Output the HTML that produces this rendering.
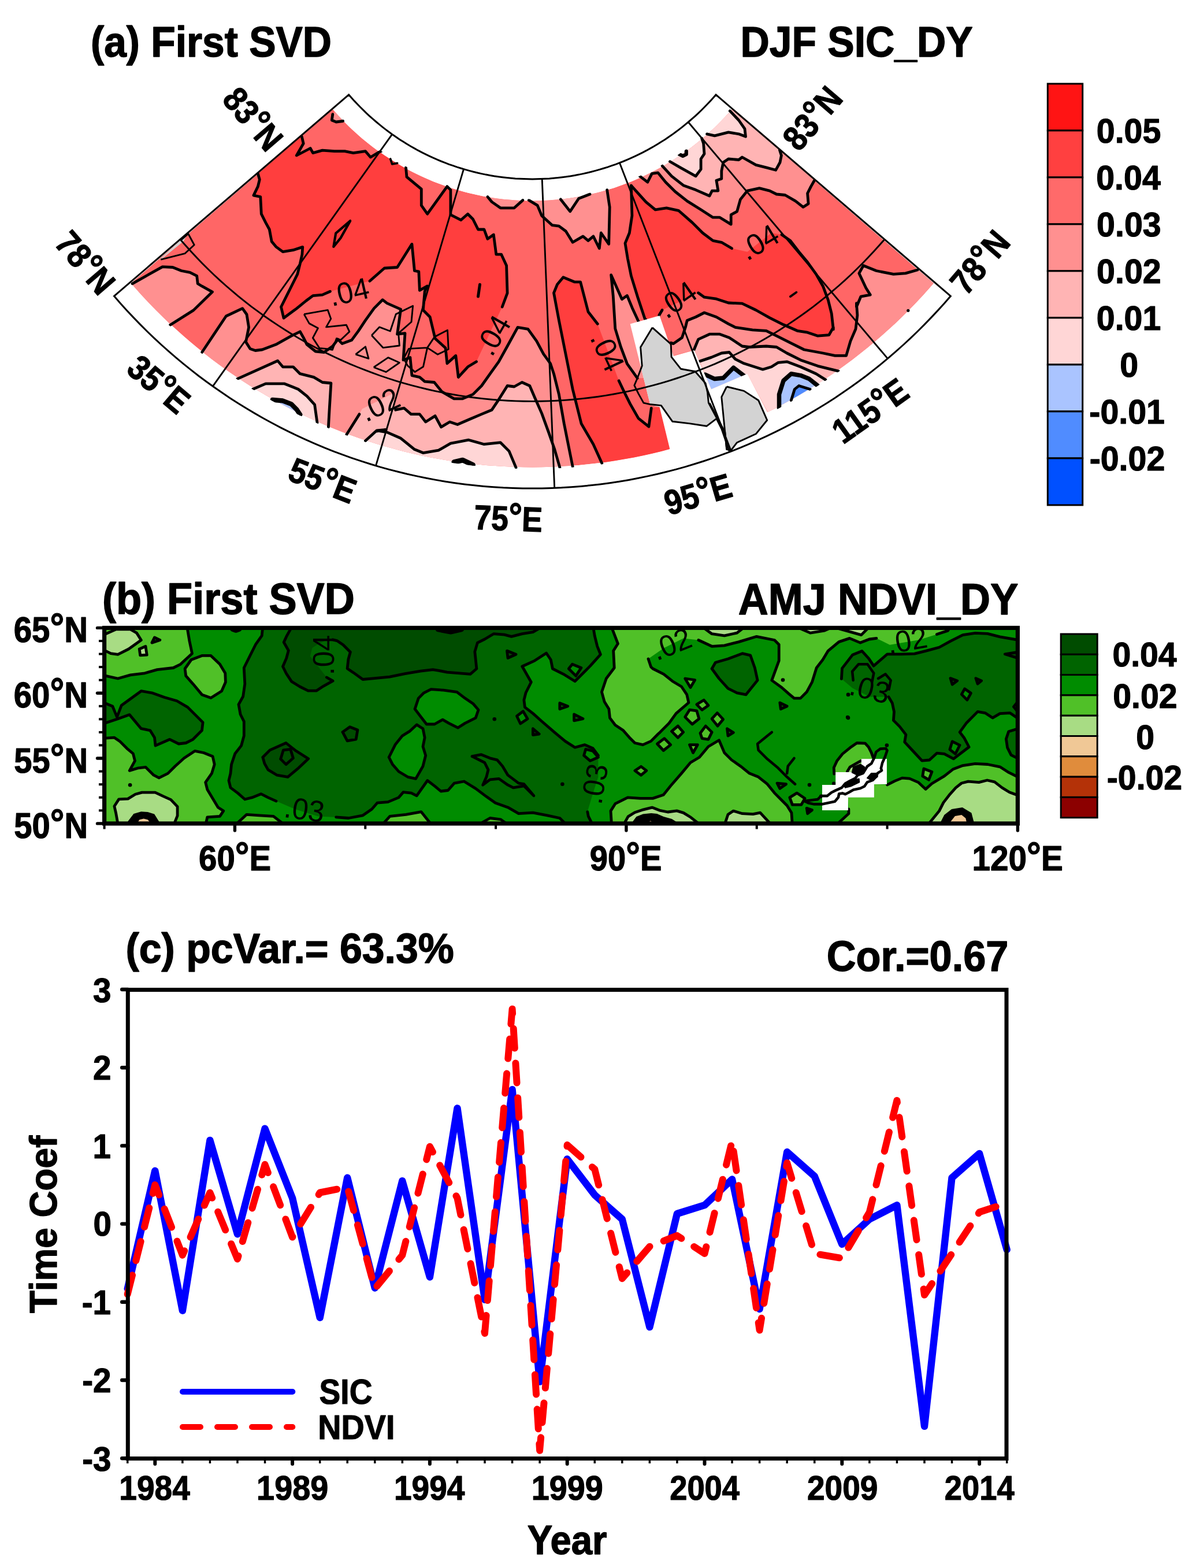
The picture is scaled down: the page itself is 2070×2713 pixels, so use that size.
<!DOCTYPE html>
<html lang="en"><head><meta charset="utf-8"><title>SVD of DJF SIC and AMJ NDVI</title>
<style>
html,body{margin:0;padding:0;background:#fff;}
body{width:2070px;height:2713px;overflow:hidden;}
svg{display:block;}
.t{font-family:"Liberation Sans",Arial,Helvetica,sans-serif;font-weight:bold;fill:#000;}
.cl{font-family:"Liberation Sans",Arial,Helvetica,sans-serif;font-weight:normal;fill:#000;}
</style></head><body>
<svg width="2070" height="2713" viewBox="0 0 2070 2713">
<rect x="0" y="0" width="2070" height="2713" fill="#ffffff"/>
<g id="panel-a">
<defs><clipPath id="dclip"><path d="M226.7 490.0 L237.3 502.1 L248.1 514.0 L259.2 525.7 L270.4 537.2 L281.8 548.5 L293.4 559.7 L305.3 570.6 L317.3 581.3 L329.5 591.8 L341.8 602.0 L354.4 612.1 L367.1 621.9 L380.0 631.5 L393.1 640.9 L406.3 650.1 L419.7 659.0 L433.3 667.7 L446.9 676.1 L460.8 684.3 L474.8 692.3 L488.9 700.0 L503.1 707.4 L517.5 714.7 L532.0 721.6 L546.6 728.3 L561.4 734.8 L576.2 741.0 L591.2 746.9 L606.2 752.5 L621.4 757.9 L636.6 763.1 L652.0 767.9 L667.4 772.5 L682.9 776.8 L698.4 780.9 L714.1 784.7 L729.8 788.2 L745.5 791.4 L761.4 794.3 L777.2 797.0 L793.1 799.4 L809.1 801.5 L825.1 803.3 L841.1 804.9 L857.1 806.1 L873.2 807.1 L889.2 807.8 L905.3 808.3 L921.4 808.4 L937.5 808.3 L953.6 807.8 L969.6 807.1 L985.7 806.1 L1001.7 804.9 L1017.7 803.3 L1033.7 801.5 L1049.7 799.4 L1065.6 797.0 L1081.4 794.3 L1097.3 791.4 L1113.0 788.2 L1128.7 784.7 L1144.4 780.9 L1159.9 776.8 L1175.4 772.5 L1190.8 767.9 L1206.2 763.1 L1221.4 757.9 L1236.6 752.5 L1251.6 746.9 L1266.6 741.0 L1281.4 734.8 L1296.2 728.3 L1310.8 721.6 L1325.3 714.7 L1339.7 707.4 L1353.9 700.0 L1368.0 692.3 L1382.0 684.3 L1395.9 676.1 L1409.5 667.7 L1423.1 659.0 L1436.5 650.1 L1449.7 640.9 L1462.8 631.5 L1475.7 621.9 L1488.4 612.1 L1501.0 602.0 L1513.3 591.8 L1525.5 581.3 L1537.5 570.6 L1549.4 559.7 L1561.0 548.5 L1572.4 537.2 L1583.6 525.7 L1594.7 514.0 L1605.5 502.1 L1616.1 490.0 L1266.8 189.1 L1261.6 195.1 L1256.2 201.0 L1250.7 206.8 L1245.1 212.5 L1239.4 218.2 L1233.7 223.7 L1227.8 229.1 L1221.8 234.5 L1215.8 239.7 L1209.6 244.8 L1203.4 249.8 L1197.0 254.7 L1190.6 259.5 L1184.1 264.1 L1177.5 268.7 L1170.9 273.1 L1164.1 277.4 L1157.3 281.6 L1150.5 285.7 L1143.5 289.7 L1136.5 293.5 L1129.4 297.2 L1122.2 300.8 L1115.0 304.2 L1107.8 307.6 L1100.4 310.8 L1093.0 313.9 L1085.6 316.8 L1078.1 319.6 L1070.6 322.3 L1063.0 324.9 L1055.4 327.3 L1047.7 329.6 L1040.0 331.7 L1032.3 333.7 L1024.5 335.6 L1016.7 337.3 L1008.8 338.9 L1001.0 340.4 L993.1 341.7 L985.2 342.9 L977.3 344.0 L969.3 344.9 L961.3 345.6 L953.4 346.3 L945.4 346.8 L937.4 347.1 L929.4 347.3 L921.4 347.4 L913.4 347.3 L905.4 347.1 L897.4 346.8 L889.4 346.3 L881.5 345.6 L873.5 344.9 L865.5 344.0 L857.6 342.9 L849.7 341.7 L841.8 340.4 L834.0 338.9 L826.1 337.3 L818.3 335.6 L810.5 333.7 L802.8 331.7 L795.1 329.6 L787.4 327.3 L779.8 324.9 L772.2 322.3 L764.7 319.6 L757.2 316.8 L749.8 313.9 L742.4 310.8 L735.0 307.6 L727.8 304.2 L720.6 300.8 L713.4 297.2 L706.3 293.5 L699.3 289.7 L692.3 285.7 L685.5 281.6 L678.7 277.4 L671.9 273.1 L665.3 268.7 L658.7 264.1 L652.2 259.5 L645.8 254.7 L639.4 249.8 L633.2 244.8 L627.0 239.7 L621.0 234.5 L615.0 229.1 L609.1 223.7 L603.4 218.2 L597.7 212.5 L592.1 206.8 L586.6 201.0 L581.2 195.1 L576.0 189.1 Z"/></clipPath>
<clipPath id="sclip"><path d="M223.1 490.4 L233.7 502.5 L244.6 514.5 L255.6 526.4 L266.9 538.0 L278.4 549.4 L290.1 560.6 L301.9 571.6 L314.0 582.4 L326.2 592.9 L338.7 603.3 L351.3 613.4 L364.1 623.4 L377.0 633.1 L390.1 642.5 L403.4 651.7 L416.9 660.7 L430.5 669.5 L444.3 678.0 L458.2 686.3 L472.2 694.3 L486.4 702.1 L500.7 709.6 L515.2 716.9 L529.8 723.9 L544.5 730.6 L559.3 737.1 L574.2 743.4 L589.3 749.4 L604.4 755.1 L619.6 760.5 L635.0 765.7 L650.4 770.6 L665.9 775.2 L681.5 779.6 L697.1 783.6 L712.9 787.5 L728.7 791.0 L744.5 794.2 L760.4 797.2 L776.4 799.9 L792.4 802.3 L808.4 804.4 L824.5 806.3 L840.6 807.8 L856.7 809.1 L872.9 810.1 L889.0 810.8 L905.2 811.3 L921.4 811.4 L937.6 811.3 L953.8 810.8 L969.9 810.1 L986.1 809.1 L1002.2 807.8 L1018.3 806.3 L1034.4 804.4 L1050.4 802.3 L1066.4 799.9 L1082.4 797.2 L1098.3 794.2 L1114.1 791.0 L1129.9 787.5 L1145.7 783.6 L1161.3 779.6 L1176.9 775.2 L1192.4 770.6 L1207.8 765.7 L1223.2 760.5 L1238.4 755.1 L1253.5 749.4 L1268.6 743.4 L1283.5 737.1 L1298.3 730.6 L1313.0 723.9 L1327.6 716.9 L1342.1 709.6 L1356.4 702.1 L1370.6 694.3 L1384.6 686.3 L1398.5 678.0 L1412.3 669.5 L1425.9 660.7 L1439.4 651.7 L1452.7 642.5 L1465.8 633.1 L1478.7 623.4 L1491.5 613.4 L1504.1 603.3 L1516.6 592.9 L1528.8 582.4 L1540.9 571.6 L1552.7 560.6 L1564.4 549.4 L1575.9 538.0 L1587.2 526.4 L1598.2 514.5 L1609.1 502.5 L1619.7 490.4 L1265.2 186.3 L1260.0 192.3 L1254.7 198.2 L1249.2 204.0 L1243.7 209.8 L1238.0 215.4 L1232.3 220.9 L1226.4 226.3 L1220.5 231.6 L1214.5 236.8 L1208.3 241.9 L1202.1 246.9 L1195.8 251.8 L1189.4 256.6 L1183.0 261.2 L1176.4 265.8 L1169.8 270.2 L1163.1 274.5 L1156.3 278.7 L1149.5 282.8 L1142.6 286.7 L1135.6 290.6 L1128.5 294.3 L1121.4 297.9 L1114.2 301.3 L1107.0 304.6 L1099.7 307.8 L1092.3 310.9 L1084.9 313.8 L1077.5 316.7 L1070.0 319.3 L1062.4 321.9 L1054.8 324.3 L1047.2 326.6 L1039.5 328.7 L1031.8 330.7 L1024.1 332.6 L1016.3 334.3 L1008.5 335.9 L1000.7 337.4 L992.8 338.7 L984.9 339.9 L977.0 341.0 L969.1 341.9 L961.2 342.6 L953.2 343.3 L945.3 343.8 L937.3 344.1 L929.4 344.3 L921.4 344.4 L913.4 344.3 L905.5 344.1 L897.5 343.8 L889.6 343.3 L881.6 342.6 L873.7 341.9 L865.8 341.0 L857.9 339.9 L850.0 338.7 L842.1 337.4 L834.3 335.9 L826.5 334.3 L818.7 332.6 L811.0 330.7 L803.3 328.7 L795.6 326.6 L788.0 324.3 L780.4 321.9 L772.8 319.3 L765.3 316.7 L757.9 313.8 L750.5 310.9 L743.1 307.8 L735.8 304.6 L728.6 301.3 L721.4 297.9 L714.3 294.3 L707.2 290.6 L700.2 286.7 L693.3 282.8 L686.5 278.7 L679.7 274.5 L673.0 270.2 L666.4 265.8 L659.8 261.2 L653.4 256.6 L647.0 251.8 L640.7 246.9 L634.5 241.9 L628.3 236.8 L622.3 231.6 L616.4 226.3 L610.5 220.9 L604.8 215.4 L599.1 209.8 L593.6 204.0 L588.1 198.2 L582.8 192.3 L577.6 186.3 Z"/></clipPath>
<clipPath id="mclip"><path d="M1090.7 560.5 L1141.6 546.2 L1165.7 615.9 L1201.4 606.1 L1231.0 673.5 L1293.5 646.7 L1345.0 745.0 L1180.0 860.0 L1159.5 777.5 L1141.6 704.3 L1125.5 700.7 Z"/></clipPath></defs>
<g clip-path="url(#dclip)">
<path d="M226.7 490.0 L237.3 502.1 L248.1 514.0 L259.2 525.7 L270.4 537.2 L281.8 548.5 L293.4 559.7 L305.3 570.6 L317.3 581.3 L329.5 591.8 L341.8 602.0 L354.4 612.1 L367.1 621.9 L380.0 631.5 L393.1 640.9 L406.3 650.1 L419.7 659.0 L433.3 667.7 L446.9 676.1 L460.8 684.3 L474.8 692.3 L488.9 700.0 L503.1 707.4 L517.5 714.7 L532.0 721.6 L546.6 728.3 L561.4 734.8 L576.2 741.0 L591.2 746.9 L606.2 752.5 L621.4 757.9 L636.6 763.1 L652.0 767.9 L667.4 772.5 L682.9 776.8 L698.4 780.9 L714.1 784.7 L729.8 788.2 L745.5 791.4 L761.4 794.3 L777.2 797.0 L793.1 799.4 L809.1 801.5 L825.1 803.3 L841.1 804.9 L857.1 806.1 L873.2 807.1 L889.2 807.8 L905.3 808.3 L921.4 808.4 L937.5 808.3 L953.6 807.8 L969.6 807.1 L985.7 806.1 L1001.7 804.9 L1017.7 803.3 L1033.7 801.5 L1049.7 799.4 L1065.6 797.0 L1081.4 794.3 L1097.3 791.4 L1113.0 788.2 L1128.7 784.7 L1144.4 780.9 L1159.9 776.8 L1175.4 772.5 L1190.8 767.9 L1206.2 763.1 L1221.4 757.9 L1236.6 752.5 L1251.6 746.9 L1266.6 741.0 L1281.4 734.8 L1296.2 728.3 L1310.8 721.6 L1325.3 714.7 L1339.7 707.4 L1353.9 700.0 L1368.0 692.3 L1382.0 684.3 L1395.9 676.1 L1409.5 667.7 L1423.1 659.0 L1436.5 650.1 L1449.7 640.9 L1462.8 631.5 L1475.7 621.9 L1488.4 612.1 L1501.0 602.0 L1513.3 591.8 L1525.5 581.3 L1537.5 570.6 L1549.4 559.7 L1561.0 548.5 L1572.4 537.2 L1583.6 525.7 L1594.7 514.0 L1605.5 502.1 L1616.1 490.0 L1266.8 189.1 L1261.6 195.1 L1256.2 201.0 L1250.7 206.8 L1245.1 212.5 L1239.4 218.2 L1233.7 223.7 L1227.8 229.1 L1221.8 234.5 L1215.8 239.7 L1209.6 244.8 L1203.4 249.8 L1197.0 254.7 L1190.6 259.5 L1184.1 264.1 L1177.5 268.7 L1170.9 273.1 L1164.1 277.4 L1157.3 281.6 L1150.5 285.7 L1143.5 289.7 L1136.5 293.5 L1129.4 297.2 L1122.2 300.8 L1115.0 304.2 L1107.8 307.6 L1100.4 310.8 L1093.0 313.9 L1085.6 316.8 L1078.1 319.6 L1070.6 322.3 L1063.0 324.9 L1055.4 327.3 L1047.7 329.6 L1040.0 331.7 L1032.3 333.7 L1024.5 335.6 L1016.7 337.3 L1008.8 338.9 L1001.0 340.4 L993.1 341.7 L985.2 342.9 L977.3 344.0 L969.3 344.9 L961.3 345.6 L953.4 346.3 L945.4 346.8 L937.4 347.1 L929.4 347.3 L921.4 347.4 L913.4 347.3 L905.4 347.1 L897.4 346.8 L889.4 346.3 L881.5 345.6 L873.5 344.9 L865.5 344.0 L857.6 342.9 L849.7 341.7 L841.8 340.4 L834.0 338.9 L826.1 337.3 L818.3 335.6 L810.5 333.7 L802.8 331.7 L795.1 329.6 L787.4 327.3 L779.8 324.9 L772.2 322.3 L764.7 319.6 L757.2 316.8 L749.8 313.9 L742.4 310.8 L735.0 307.6 L727.8 304.2 L720.6 300.8 L713.4 297.2 L706.3 293.5 L699.3 289.7 L692.3 285.7 L685.5 281.6 L678.7 277.4 L671.9 273.1 L665.3 268.7 L658.7 264.1 L652.2 259.5 L645.8 254.7 L639.4 249.8 L633.2 244.8 L627.0 239.7 L621.0 234.5 L615.0 229.1 L609.1 223.7 L603.4 218.2 L597.7 212.5 L592.1 206.8 L586.6 201.0 L581.2 195.1 L576.0 189.1 Z" fill="#FF6666"/>
<path d="M522.3 236.3 L525.2 248.2 L513.3 269.0 L537.1 256.5 L541.6 264.6 L558.0 260.1 L578.8 261.6 L596.7 261.6 L611.5 264.6 L632.4 261.6 L641.3 272.0 L656.2 263.1 L668.1 257.7 L702.5 289.9 L704.0 306.2 L729.3 327.1 L729.3 355.4 L739.7 370.2 L773.9 322.6 L779.9 328.6 L779.9 371.7 L782.9 373.2 L797.7 380.7 L809.6 370.2 L818.6 379.2 L827.5 397.0 L837.9 397.0 L843.9 413.4 L854.3 406.0 L858.8 440.2 L867.7 440.2 L876.6 459.5 L878.1 507.1 L869.2 531.0 L824.5 625.8 L809.6 634.8 L793.3 652.6 L788.8 615.4 L773.9 628.8 L771.0 602.0 L753.1 585.7 L744.2 548.5 L732.3 536.5 L735.2 503.8 L739.7 494.9 L726.3 502.3 L724.8 469.9 L717.4 468.5 L712.9 422.3 L687.6 462.5 L665.3 464.0 L640.0 486.3 L571.4 504.2 L558.0 510.1 L541.6 511.6 L529.7 520.5 L513.3 533.9 L491.0 550.3 L486.5 531.0 L501.4 501.2 L514.8 474.4 L519.3 456.5 L522.9 440.2 L523.8 427.4 L507.4 432.7 L489.5 435.7 L477.6 426.8 L470.2 417.9 L466.3 397.0 L459.8 385.1 L452.3 370.2 L450.8 340.5 L438.9 338.1 L446.4 322.6 L449.3 310.7 L446.4 300.3 L414.3 259.8 L494.6 201.5 Z" fill="#FF3E3E"/>
<path d="M1041.8 801.4 L1026.9 768.7 L1006.1 733.0 L991.2 673.5 L979.3 613.9 L967.4 554.4 L958.5 506.8 L964.4 492.3 L974.8 479.8 L994.2 487.8 L1004.6 487.8 L1018.0 539.5 L1034.3 560.4 L1071.1 658.8 L1080.0 677.5 L1090.7 698.9 L1105.0 723.9 L1122.9 738.2 L1127.3 706.1 L1141.6 704.3 L1159.5 777.5 L1175.7 837.8 L1134.1 848.0 L1092.2 856.4 L1049.9 862.9 Z" fill="#FF3E3E"/>
<path d="M1092.4 321.1 L1117.9 349.4 L1134.2 362.8 L1153.6 359.8 L1174.4 364.3 L1198.2 385.1 L1216.1 403.0 L1233.9 416.4 L1248.8 419.3 L1266.7 429.8 L1293.5 435.7 L1335.1 403.0 L1353.0 406.0 L1367.9 416.4 L1382.7 435.7 L1397.6 453.6 L1412.5 474.4 L1424.4 495.2 L1433.3 519.0 L1439.3 542.9 L1442.3 569.9 L1442.3 566.3 L1434.8 579.7 L1415.5 581.2 L1397.6 575.2 L1379.8 572.3 L1356.0 561.8 L1332.1 549.9 L1308.3 536.5 L1284.5 525.2 L1260.7 524.0 L1239.9 517.2 L1219.0 514.2 L1208.6 506.8 L1146.1 536.4 L1140.7 545.4 L1117.5 552.5 L1116.2 551.8 L1104.3 516.1 L1092.4 477.4 L1086.4 447.6 L1082.0 420.8 L1089.4 403.0 L1093.9 373.2 L1092.4 321.1 Z" fill="#FF3E3E"/>
<path d="M229.1 490.8 L281.2 461.6 L299.0 462.5 L313.9 468.5 L328.8 471.4 L340.7 477.4 L342.2 490.8 L349.6 495.2 L367.5 505.1 L334.8 536.9 L294.6 562.2 L252.3 607.4 L225.5 581.4 L199.6 554.3 L174.8 526.3 L151.1 497.3 L128.6 467.4 L128.6 467.4 L180.6 429.6 Z" fill="#FF9090"/>
<path d="M349.6 609.5 L370.5 578.2 L391.3 547.0 L419.6 533.6 L427.0 544.0 L430.6 566.3 L425.5 591.6 L433.0 603.5 L441.9 606.5 L453.8 605.0 L477.6 596.1 L504.4 581.2 L519.3 573.8 L525.2 584.2 L531.2 596.1 L546.1 608.0 L561.0 609.5 L575.8 599.0 L584.8 587.1 L592.2 594.6 L608.6 588.6 L620.5 572.3 L632.4 554.4 L647.3 533.6 L662.1 518.7 L669.8 524.6 L693.6 535.1 L687.6 578.2 L701.0 576.7 L698.0 622.9 L709.9 618.4 L712.9 649.6 L726.3 652.6 L735.2 660.1 L751.6 661.5 L765.0 677.9 L785.8 689.8 L800.7 689.8 L818.6 682.4 L833.5 667.5 L848.3 646.7 L863.2 625.8 L878.1 599.0 L896.0 566.3 L913.8 569.3 L928.7 590.1 L940.6 612.4 L952.5 628.8 L958.5 646.7 L967.4 682.4 L976.3 733.0 L985.2 777.6 L991.2 807.4 L995.9 868.6 L961.0 870.6 L926.1 871.4 L891.1 870.9 L856.3 869.2 L821.4 866.3 L786.8 862.1 L752.3 856.7 L718.0 850.1 L683.9 842.2 L650.2 833.1 L616.8 822.9 L583.8 811.4 L551.3 798.8 L519.2 785.0 L487.6 770.1 L456.5 754.1 L426.1 737.0 L396.3 718.8 L367.1 699.6 L338.7 679.3 L311.0 658.1 Z" fill="#FF9090"/>
<path d="M915.3 346.4 L930.2 355.4 L937.6 373.2 L955.5 389.6 L967.4 391.1 L979.3 400.0 L991.2 419.3 L1009.0 408.9 L1018.0 416.4 L1026.9 408.9 L1037.3 429.8 L1040.3 403.0 L1053.7 422.3 L1055.2 358.3 L1050.7 328.6 L1034.9 275.0 L1020.4 279.0 L1005.7 282.4 L990.9 285.3 L976.1 287.6 L961.1 289.4 L946.1 290.6 L931.1 291.3 L916.0 291.4 Z" fill="#FF9090"/>
<path d="M843.9 340.5 L851.3 349.4 L866.2 359.8 L890.0 359.8 L904.9 346.4 L906.9 291.1 L889.0 290.1 L871.1 288.2 L853.3 285.6 Z" fill="#FF9090"/>
<path d="M575.8 197.6 L574.3 208.0 L581.8 211.0 L593.7 209.5 L634.4 170.0 L622.0 156.7 Z" fill="#FF9090"/>
<path d="M1105.0 556.1 L1094.3 532.9 L1085.4 511.4 L1076.4 517.7 L1057.7 475.7 L1061.2 511.4 L1064.8 568.6 L1074.6 600.7 L1085.4 629.3 L1094.3 641.8 L1103.2 654.3 L1115.7 654.3 L1108.6 565.0 Z" fill="#FF9090"/>
<path d="M1588.1 467.0 L1567.3 472.9 L1546.4 474.4 L1516.7 468.5 L1494.3 459.5 L1486.9 472.9 L1498.8 498.2 L1506.2 510.1 L1489.9 513.1 L1482.4 531.0 L1482.4 524.6 L1483.9 545.5 L1481.0 569.3 L1472.0 590.1 L1464.6 615.4 L1445.2 615.4 L1424.4 611.0 L1391.7 605.0 L1367.9 593.1 L1344.0 581.2 L1326.2 572.3 L1302.4 570.8 L1272.6 566.3 L1260.7 560.4 L1239.9 548.5 L1219.0 541.0 L1204.2 548.5 L1189.3 554.4 L1186.3 566.3 L1180.4 584.2 L1165.5 594.6 L1161.0 593.1 L1164.0 615.4 L1198.2 606.5 L1231.0 673.5 L1293.5 646.7 L1329.2 713.6 L1356.8 769.4 L1389.1 752.6 L1420.7 734.7 L1451.6 715.6 L1481.8 695.4 L1511.2 674.0 L1539.8 651.6 L1567.6 628.2 L1594.4 603.7 L1620.4 578.3 L1645.4 551.9 L1669.4 524.6 L1692.3 496.4 L1714.2 467.4 L1714.2 467.4 L1634.0 409.1 Z" fill="#FF9090"/>
<path d="M1107.4 304.8 L1120.8 315.2 L1128.3 300.3 L1138.7 298.8 L1152.1 315.2 L1168.5 331.5 L1189.3 347.9 L1213.1 362.8 L1233.9 376.2 L1245.8 376.2 L1265.2 388.1 L1265.2 371.7 L1275.6 365.8 L1281.5 344.9 L1293.5 330.1 L1314.3 325.6 L1332.1 330.1 L1344.0 336.0 L1358.9 337.5 L1376.8 347.9 L1390.2 358.3 L1399.1 352.4 L1397.6 334.5 L1403.6 322.6 L1409.5 312.2 L1442.8 270.2 L1245.0 126.5 L1245.0 126.5 L1236.1 138.4 L1226.7 149.9 L1216.9 161.0 L1206.7 171.8 L1196.1 182.2 L1185.1 192.2 L1173.8 201.8 L1162.1 210.9 L1150.0 219.6 L1137.7 227.9 L1125.1 235.7 L1112.2 243.0 L1099.0 249.8 L1085.6 256.2 Z" fill="#FF9090"/>
<path d="M410.7 655.6 L480.6 624.3 L489.5 634.8 L507.4 634.8 L519.3 646.7 L543.1 652.6 L558.0 661.5 L572.9 663.0 L569.9 712.1 L568.4 738.9 L544.6 796.1 L509.7 780.7 L475.4 764.0 L441.8 746.0 L408.9 726.7 L376.8 706.2 Z" fill="#FFB4B4"/>
<path d="M599.6 752.3 L622.0 716.6 L626.8 707.5 L678.6 681.6 L684.6 709.2 L699.5 706.2 L711.4 716.6 L726.3 716.6 L736.7 730.0 L753.1 719.6 L763.5 738.9 L778.4 730.0 L791.8 734.5 L812.6 725.5 L833.5 716.6 L851.3 709.2 L863.2 691.3 L878.1 667.5 L890.0 669.0 L903.4 661.5 L916.8 667.5 L925.7 688.3 L937.6 715.1 L949.5 747.9 L959.9 777.6 L968.9 808.9 L972.0 870.1 L935.6 871.3 L899.1 871.1 L862.7 869.6 L826.3 866.8 L790.1 862.6 L754.1 857.0 L718.3 850.1 L682.7 841.9 L647.5 832.4 L612.7 821.5 L578.3 809.4 Z" fill="#FFB4B4"/>
<path d="M970.4 344.9 L986.7 365.8 L1001.6 343.5 L1021.0 336.0 L1008.8 281.7 L994.1 284.7 L979.2 287.2 L964.3 289.1 Z" fill="#FFB4B4"/>
<path d="M1201.2 605.0 L1208.6 587.1 L1228.0 578.2 L1245.8 578.2 L1262.2 584.2 L1284.5 599.0 L1296.4 600.5 L1326.2 599.0 L1344.0 600.5 L1361.9 611.0 L1385.7 622.9 L1415.5 633.3 L1451.2 642.2 L1329.2 713.6 L1293.5 646.7 L1231.0 673.5 L1198.2 606.5 Z" fill="#FFB4B4"/>
<path d="M1146.1 286.9 L1162.5 304.8 L1183.3 321.1 L1204.2 328.6 L1228.0 339.0 L1232.4 330.1 L1242.9 330.1 L1239.9 312.2 L1248.8 309.2 L1248.8 295.8 L1251.8 281.0 L1260.7 275.0 L1278.6 276.5 L1284.5 272.0 L1308.3 285.4 L1326.2 289.9 L1342.6 294.3 L1350.0 281.0 L1352.4 269.0 L1349.4 259.5 L1378.1 223.2 L1245.0 126.5 L1245.0 126.5 L1236.5 137.8 L1227.5 148.9 L1218.2 159.6 L1208.5 169.9 L1198.4 179.9 L1188.0 189.6 L1177.3 198.8 L1166.2 207.7 L1154.8 216.2 L1143.2 224.3 L1131.2 231.9 L1119.0 239.2 Z" fill="#FFB4B4"/>
<path d="M437.4 673.5 L459.8 663.9 L492.5 663.9 L516.3 673.5 L531.2 685.4 L544.6 700.2 L549.0 731.5 L524.3 787.3 L483.8 768.3 L444.3 747.4 L405.7 724.7 Z" fill="#FFD6D6"/>
<path d="M632.4 762.7 L650.2 746.4 L668.1 743.4 L651.9 744.9 L669.8 747.9 L693.6 758.3 L717.4 777.6 L732.3 783.6 L759.0 779.1 L779.9 767.2 L811.1 761.2 L837.9 768.7 L866.2 765.7 L881.1 780.6 L893.0 808.9 L891.1 870.9 L855.7 869.2 L820.3 866.2 L785.2 861.9 L750.2 856.3 L715.4 849.5 L680.9 841.4 L646.7 832.1 L612.9 821.6 Z" fill="#FFD6D6"/>
<path d="M1211.6 624.9 L1231.0 618.4 L1248.8 611.0 L1262.2 609.5 L1272.6 621.4 L1287.5 628.8 L1320.2 639.2 L1335.1 634.8 L1347.0 627.3 L1361.9 625.8 L1385.7 634.8 L1412.5 646.7 L1428.9 657.1 L1329.2 713.6 L1293.5 646.7 L1231.0 673.5 Z" fill="#FFD6D6"/>
<path d="M1223.5 231.8 L1236.9 234.8 L1260.7 228.9 L1278.6 231.8 L1290.5 236.3 L1289.0 222.9 L1278.6 208.0 L1263.1 191.7 L1221.9 155.4 L1210.7 167.6 L1199.0 179.4 L1186.9 190.6 Z" fill="#FFD6D6"/>
<path d="M1159.5 279.5 L1177.4 289.9 L1204.2 304.8 L1213.1 292.9 L1213.1 275.0 L1219.0 266.1 L1217.6 248.2 L1214.6 239.3 L1179.2 197.3 L1167.5 206.7 L1155.5 215.7 L1143.2 224.3 L1130.6 232.3 Z" fill="#FFD6D6"/>
<path d="M471.7 691.3 L489.5 692.8 L504.4 698.8 L513.3 707.7 L519.3 716.6 L492.1 772.4 L441.1 745.6 Z" fill="#AAC4FF"/>
<path d="M785.8 799.0 L800.7 795.5 L818.6 803.8 L811.6 865.2 L776.6 860.6 Z" fill="#AAC4FF"/>
<path d="M1220.5 648.2 L1236.9 655.6 L1251.8 654.1 L1269.6 636.2 L1289.0 651.1 L1293.5 646.7 L1231.0 673.5 Z" fill="#AAC4FF"/>
<path d="M1348.5 706.2 L1348.5 682.4 L1356.0 658.6 L1369.3 646.7 L1385.7 649.6 L1400.6 655.6 L1415.5 667.5 L1447.7 718.1 L1412.5 739.5 L1376.4 759.4 Z" fill="#AAC4FF"/>
<path d="M1369.3 692.8 L1375.3 673.5 L1382.7 667.5 L1402.1 673.5 L1434.6 726.3 L1399.6 746.8 Z" fill="#508CFF"/>
</g>
<g clip-path="url(#sclip)" fill="none" stroke="#000" stroke-linejoin="round" stroke-linecap="round">
<path d="M522.3 236.3 L525.2 248.2 L513.3 269.0 L537.1 256.5 L541.6 264.6 L558.0 260.1 L578.8 261.6 L596.7 261.6 L611.5 264.6 L632.4 261.6 L641.3 272.0 L656.2 263.1 L668.1 257.7 " stroke-width="4.8"/>
<path d="M702.5 289.9 L704.0 306.2 L729.3 327.1 L729.3 355.4 L739.7 370.2 L773.9 322.6 L779.9 328.6 L779.9 371.7 L782.9 373.2 L797.7 380.7 L809.6 370.2 L818.6 379.2 L827.5 397.0 L837.9 397.0 L843.9 413.4 L854.3 406.0 L858.8 440.2 L867.7 440.2 L876.6 459.5 L878.1 507.1 L869.2 531.0 " stroke-width="4.8"/>
<path d="M824.5 625.8 L809.6 634.8 L793.3 652.6 L788.8 615.4 L773.9 628.8 L771.0 602.0 L753.1 585.7 L744.2 548.5 L732.3 536.5 L735.2 503.8 L739.7 494.9 L726.3 502.3 L724.8 469.9 L717.4 468.5 L712.9 422.3 L687.6 462.5 L665.3 464.0 L640.0 486.3 " stroke-width="4.8"/>
<path d="M571.4 504.2 L558.0 510.1 L541.6 511.6 L529.7 520.5 L513.3 533.9 L491.0 550.3 L486.5 531.0 L501.4 501.2 L514.8 474.4 L519.3 456.5 L522.9 440.2 L523.8 427.4 L507.4 432.7 L489.5 435.7 L477.6 426.8 L470.2 417.9 L466.3 397.0 L459.8 385.1 L452.3 370.2 L450.8 340.5 L438.9 338.1 L446.4 322.6 L449.3 310.7 L446.4 300.3 " stroke-width="4.8"/>
<path d="M1041.8 801.4 L1026.9 768.7 L1006.1 733.0 L991.2 673.5 L979.3 613.9 L967.4 554.4 L958.5 506.8 L964.4 492.3 L974.8 479.8 L994.2 487.8 L1004.6 487.8 L1018.0 539.5 L1034.3 560.4 " stroke-width="4.8"/>
<path d="M1071.1 658.8 L1080.0 677.5 L1090.7 698.9 L1105.0 723.9 L1122.9 738.2 L1127.3 706.1 " stroke-width="4.8"/>
<path d="M1092.4 321.1 L1117.9 349.4 L1134.2 362.8 L1153.6 359.8 L1174.4 364.3 L1198.2 385.1 L1216.1 403.0 L1233.9 416.4 L1248.8 419.3 L1266.7 429.8 " stroke-width="4.8"/>
<path d="M1353.0 406.0 L1367.9 416.4 L1382.7 435.7 L1397.6 453.6 L1412.5 474.4 L1424.4 495.2 L1433.3 519.0 L1439.3 542.9 L1442.3 569.9 L1442.3 566.3 L1434.8 579.7 L1415.5 581.2 L1397.6 575.2 L1379.8 572.3 L1356.0 561.8 L1332.1 549.9 L1308.3 536.5 L1284.5 525.2 L1260.7 524.0 L1239.9 517.2 L1219.0 514.2 L1208.6 506.8 " stroke-width="4.8"/>
<path d="M1146.1 536.4 L1140.7 545.4 " stroke-width="4.8"/>
<path d="M1117.5 552.5 L1116.2 551.8 L1104.3 516.1 L1092.4 477.4 L1086.4 447.6 L1082.0 420.8 L1089.4 403.0 L1093.9 373.2 L1092.4 321.1 " stroke-width="4.8"/>
<path d="M229.1 490.8 L281.2 461.6 L299.0 462.5 L313.9 468.5 L328.8 471.4 L340.7 477.4 L342.2 490.8 L349.6 495.2 L367.5 505.1 L334.8 536.9 L294.6 562.2 " stroke-width="4.8"/>
<path d="M349.6 609.5 L370.5 578.2 L391.3 547.0 L419.6 533.6 L427.0 544.0 L430.6 566.3 L425.5 591.6 L433.0 603.5 L441.9 606.5 L453.8 605.0 L477.6 596.1 L504.4 581.2 L519.3 573.8 L525.2 584.2 L531.2 596.1 L546.1 608.0 L561.0 609.5 L575.8 599.0 L584.8 587.1 L592.2 594.6 L608.6 588.6 L620.5 572.3 L632.4 554.4 L647.3 533.6 L662.1 518.7 L669.8 524.6 L693.6 535.1 L687.6 578.2 L701.0 576.7 L698.0 622.9 L709.9 618.4 L712.9 649.6 L726.3 652.6 L735.2 660.1 L751.6 661.5 L765.0 677.9 L785.8 689.8 L800.7 689.8 L818.6 682.4 L833.5 667.5 L848.3 646.7 L863.2 625.8 L878.1 599.0 L896.0 566.3 L913.8 569.3 L928.7 590.1 L940.6 612.4 L952.5 628.8 L958.5 646.7 L967.4 682.4 L976.3 733.0 L985.2 777.6 L991.2 807.4 " stroke-width="4.8"/>
<path d="M915.3 346.4 L930.2 355.4 L937.6 373.2 L955.5 389.6 L967.4 391.1 L979.3 400.0 L991.2 419.3 L1009.0 408.9 L1018.0 416.4 L1026.9 408.9 L1037.3 429.8 L1040.3 403.0 L1053.7 422.3 L1055.2 358.3 L1050.7 328.6 " stroke-width="4.8"/>
<path d="M843.9 340.5 L851.3 349.4 L866.2 359.8 L890.0 359.8 L904.9 346.4 " stroke-width="4.8"/>
<path d="M575.8 197.6 L574.3 208.0 L581.8 211.0 L593.7 209.5 " stroke-width="4.8"/>
<path d="M1105.0 556.1 L1094.3 532.9 L1085.4 511.4 L1076.4 517.7 L1057.7 475.7 L1061.2 511.4 L1064.8 568.6 L1074.6 600.7 L1085.4 629.3 L1094.3 641.8 L1103.2 654.3 " stroke-width="4.8"/>
<path d="M1588.1 467.0 L1567.3 472.9 L1546.4 474.4 L1516.7 468.5 L1494.3 459.5 L1486.9 472.9 L1498.8 498.2 L1506.2 510.1 L1489.9 513.1 L1482.4 531.0 L1482.4 524.6 L1483.9 545.5 L1481.0 569.3 L1472.0 590.1 L1464.6 615.4 L1445.2 615.4 L1424.4 611.0 L1391.7 605.0 L1367.9 593.1 L1344.0 581.2 L1326.2 572.3 L1302.4 570.8 L1272.6 566.3 L1260.7 560.4 L1239.9 548.5 L1219.0 541.0 L1204.2 548.5 L1189.3 554.4 L1186.3 566.3 L1180.4 584.2 L1165.5 594.6 L1161.0 593.1 " stroke-width="4.8"/>
<path d="M1107.4 304.8 L1120.8 315.2 L1128.3 300.3 L1138.7 298.8 L1152.1 315.2 L1168.5 331.5 L1189.3 347.9 L1213.1 362.8 L1233.9 376.2 L1245.8 376.2 L1265.2 388.1 L1265.2 371.7 L1275.6 365.8 L1281.5 344.9 L1293.5 330.1 L1314.3 325.6 L1332.1 330.1 L1344.0 336.0 L1358.9 337.5 L1376.8 347.9 L1390.2 358.3 L1399.1 352.4 L1397.6 334.5 L1403.6 322.6 L1409.5 312.2 " stroke-width="4.8"/>
<path d="M410.7 655.6 L480.6 624.3 L489.5 634.8 L507.4 634.8 L519.3 646.7 L543.1 652.6 L558.0 661.5 L572.9 663.0 L569.9 712.1 L568.4 738.9 " stroke-width="4.8"/>
<path d="M599.6 752.3 L622.0 716.6 " stroke-width="4.8"/>
<path d="M684.6 709.2 L699.5 706.2 L711.4 716.6 L726.3 716.6 L736.7 730.0 L753.1 719.6 L763.5 738.9 L778.4 730.0 L791.8 734.5 L812.6 725.5 L833.5 716.6 L851.3 709.2 L863.2 691.3 L878.1 667.5 L890.0 669.0 L903.4 661.5 L916.8 667.5 L925.7 688.3 L937.6 715.1 L949.5 747.9 L959.9 777.6 L968.9 808.9 " stroke-width="4.8"/>
<path d="M970.4 344.9 L986.7 365.8 L1001.6 343.5 L1021.0 336.0 " stroke-width="4.8"/>
<path d="M1201.2 605.0 L1208.6 587.1 L1228.0 578.2 L1245.8 578.2 L1262.2 584.2 L1284.5 599.0 L1296.4 600.5 L1326.2 599.0 L1344.0 600.5 L1361.9 611.0 L1385.7 622.9 L1415.5 633.3 L1451.2 642.2 " stroke-width="4.8"/>
<path d="M1146.1 286.9 L1162.5 304.8 L1183.3 321.1 L1204.2 328.6 L1228.0 339.0 L1232.4 330.1 L1242.9 330.1 L1239.9 312.2 L1248.8 309.2 L1248.8 295.8 L1251.8 281.0 L1260.7 275.0 L1278.6 276.5 L1284.5 272.0 L1308.3 285.4 L1326.2 289.9 L1342.6 294.3 L1350.0 281.0 L1352.4 269.0 L1349.4 259.5 " stroke-width="4.8"/>
<path d="M437.4 673.5 L459.8 663.9 L492.5 663.9 L516.3 673.5 L531.2 685.4 L544.6 700.2 L549.0 731.5 " stroke-width="4.8"/>
<path d="M632.4 762.7 L650.2 746.4 L668.1 743.4 L651.9 744.9 L669.8 747.9 L693.6 758.3 L717.4 777.6 L732.3 783.6 L759.0 779.1 L779.9 767.2 L811.1 761.2 L837.9 768.7 L866.2 765.7 L881.1 780.6 L893.0 808.9 " stroke-width="4.8"/>
<path d="M1211.6 624.9 L1231.0 618.4 L1248.8 611.0 L1262.2 609.5 L1272.6 621.4 L1287.5 628.8 L1320.2 639.2 L1335.1 634.8 L1347.0 627.3 L1361.9 625.8 L1385.7 634.8 L1412.5 646.7 L1428.9 657.1 " stroke-width="4.8"/>
<path d="M1223.5 231.8 L1236.9 234.8 L1260.7 228.9 L1278.6 231.8 L1290.5 236.3 L1289.0 222.9 L1278.6 208.0 L1263.1 191.7 " stroke-width="4.8"/>
<path d="M1159.5 279.5 L1177.4 289.9 L1204.2 304.8 L1213.1 292.9 L1213.1 275.0 L1219.0 266.1 L1217.6 248.2 L1214.6 239.3 " stroke-width="4.8"/>
<path d="M471.7 691.3 L489.5 692.8 L504.4 698.8 L513.3 707.7 L519.3 716.6 " stroke-width="4.8"/>
<path d="M785.8 799.0 L800.7 795.5 L818.6 803.8 " stroke-width="4.8"/>
<path d="M1220.5 648.2 L1236.9 655.6 L1251.8 654.1 L1269.6 636.2 L1289.0 651.1 " stroke-width="4.8"/>
<path d="M1348.5 706.2 L1348.5 682.4 L1356.0 658.6 L1369.3 646.7 L1385.7 649.6 L1400.6 655.6 L1415.5 667.5 " stroke-width="4.8"/>
<path d="M1369.3 692.8 L1375.3 673.5 L1382.7 667.5 L1402.1 673.5 " stroke-width="4.8"/>
<path d="M577.3 426.8 L581.2 403.6 L606.2 382.1 L589.5 411.9 L577.3 426.8 " stroke-width="4.2"/>
<path d="M675.7 275.0 L678.7 283.9 L687.6 282.4 " stroke-width="3.8"/>
<path d="M830.5 492.3 L827.5 513.1 " stroke-width="5.0"/>
<path d="M1175.9 267.0 L1181.8 269.9 L1187.8 267.0 L1187.8 261.6 " stroke-width="6.2"/>
<path d="M1367.9 513.1 L1378.3 505.7 " stroke-width="3.8"/>
<path d="M471.7 691.9 L489.5 693.4 L504.4 699.3 L513.3 708.3 L519.3 717.2 " stroke-width="8.1"/>
<path d="M785.8 799.6 L800.7 796.1 L818.6 804.4 " stroke-width="8.8"/>
<path d="M1220.5 648.2 L1236.9 655.6 L1251.8 654.1 L1269.6 636.2 L1289.0 651.1 " stroke-width="7.5"/>
<path d="M1348.5 706.2 L1348.5 682.4 L1356.0 658.6 L1369.3 646.7 L1385.7 649.6 L1400.6 655.6 L1415.5 667.5 " stroke-width="7.5"/>
</g>
<path d="M1090.7 560.5 L1141.6 546.2 L1165.7 615.9 L1201.4 606.1 L1231.0 673.5 L1293.5 646.7 L1345.0 745.0 L1180.0 860.0 L1159.5 777.5 L1141.6 704.3 L1125.5 700.7 Z" fill="#fff"/>
<g clip-path="url(#mclip)">
<path d="M1129.1 566.8 L1108.6 600.7 L1111.2 632.9 L1103.2 654.3 L1097.9 666.8 L1105.0 681.1 L1113.9 697.1 L1126.4 699.8 L1144.3 701.6 L1163.9 729.3 L1194.3 732.9 L1222.9 737.3 L1240.7 723.9 L1226.4 697.1 L1224.6 679.3 L1221.1 663.2 L1203.2 642.7 L1178.2 638.2 L1162.1 617.7 L1161.2 595.4 Z" fill="#D3D3D3"/>
<path d="M1257.7 669.0 L1248.8 686.8 L1257.7 777.6 L1265.2 779.1 L1275.6 765.7 L1308.3 750.8 L1327.7 727.0 L1312.8 692.8 L1287.5 676.4 Z" fill="#D3D3D3"/>
</g>
<path d="M275.5 450.0 L324.5 405.0 L317.5 417.5 L280.0 448.0 Z" fill="#D3D3D3"/>
<path d="M1129.1 566.8 L1108.6 600.7 L1111.2 632.9 L1103.2 654.3 L1097.9 666.8 L1105.0 681.1 L1113.9 697.1 L1126.4 699.8 L1144.3 701.6 L1163.9 729.3 L1194.3 732.9 L1222.9 737.3 L1240.7 723.9 L1226.4 697.1 L1224.6 679.3 L1221.1 663.2 L1203.2 642.7 L1178.2 638.2 L1162.1 617.7 L1161.2 595.4 L1129.1 566.8 " fill="none" stroke="#000" stroke-width="2.9" stroke-linejoin="round"/>
<path d="M1257.7 669.0 L1248.8 686.8 L1257.7 777.6 L1265.2 779.1 L1275.6 765.7 L1308.3 750.8 L1327.7 727.0 L1312.8 692.8 L1287.5 676.4 L1257.7 669.0 " fill="none" stroke="#000" stroke-width="2.9" stroke-linejoin="round"/>
<path d="M526.2 543.6 L567.3 536.4 L572.7 551.6 L564.6 565.9 L599.5 562.3 L604.8 573.9 L589.6 588.2 L582.5 585.5 L575.4 605.2 L563.8 603.4 L553.0 602.5 L541.4 584.6 L550.4 567.7 L535.2 559.6 L526.2 543.6 " fill="none" stroke="#000" stroke-width="2.9" stroke-linejoin="round"/>
<path d="M643.2 580.2 L656.6 565.9 L675.4 573.0 L685.2 543.6 L714.6 529.3 L712.0 557.0 L689.6 576.6 L691.4 598.0 L662.9 601.6 L643.2 580.2 " fill="none" stroke="#000" stroke-width="2.9" stroke-linejoin="round"/>
<path d="M615.5 613.2 L632.5 599.8 L637.9 620.4 L615.5 613.2 " fill="none" stroke="#000" stroke-width="2.9" stroke-linejoin="round"/>
<path d="M646.8 635.5 L671.8 618.6 L691.4 627.5 L668.2 643.6 L646.8 635.5 " fill="none" stroke="#000" stroke-width="2.9" stroke-linejoin="round"/>
<path d="M698.6 620.4 L707.5 603.4 L739.6 601.6 L752.1 582.9 L774.5 571.2 L776.2 604.3 L757.5 613.2 L739.6 601.6 L732.5 634.6 L718.2 643.6 L705.7 632.9 L698.6 620.4 " fill="none" stroke="#000" stroke-width="2.9" stroke-linejoin="round"/>
<path d="M313.9 414.9 L325.8 404.5 L336.2 423.8 L319.9 438.7 L278.2 449.1 " fill="none" stroke="#000" stroke-width="2.9" stroke-linejoin="round"/>
<path d="M1262.2 780.6 L1248.8 741.9 L1239.9 724.0 " fill="none" stroke="#000" stroke-width="2.9" stroke-linejoin="round"/>
<path d="M1257.7 777.6 L1254.8 747.9 L1228.0 697.3 " fill="none" stroke="#000" stroke-width="2.9" stroke-linejoin="round"/>
<line x1="678.7" y1="232.3" x2="368.3" y2="668.3" stroke="#000" stroke-width="2.9"/>
<line x1="802.5" y1="292.7" x2="650.5" y2="805.8" stroke="#000" stroke-width="2.9"/>
<line x1="938.2" y1="309.6" x2="959.7" y2="844.3" stroke="#000" stroke-width="2.9"/>
<line x1="1072.4" y1="281.7" x2="1265.5" y2="780.9" stroke="#000" stroke-width="2.9"/>
<line x1="1191.2" y1="211.3" x2="1536.3" y2="620.4" stroke="#000" stroke-width="2.9"/>
<path d="M311.9 414.2 L321.2 424.8 L330.7 435.3 L340.3 445.6 L350.1 455.7 L360.2 465.7 L370.3 475.5 L380.7 485.1 L391.2 494.5 L401.9 503.7 L412.8 512.8 L423.8 521.6 L434.9 530.3 L446.2 538.7 L457.7 547.0 L469.3 555.0 L481.1 562.9 L492.9 570.5 L504.9 578.0 L517.1 585.2 L529.3 592.2 L541.7 599.0 L554.2 605.5 L566.9 611.9 L579.6 618.0 L592.4 623.9 L605.3 629.6 L618.4 635.0 L631.5 640.2 L644.7 645.2 L658.0 650.0 L671.4 654.5 L684.9 658.8 L698.4 662.8 L712.0 666.6 L725.7 670.2 L739.4 673.5 L753.2 676.6 L767.0 679.4 L780.9 682.0 L794.8 684.4 L808.8 686.5 L822.8 688.3 L836.8 689.9 L850.9 691.3 L865.0 692.4 L879.0 693.3 L893.2 693.9 L907.3 694.3 L921.4 694.4 L935.5 694.3 L949.6 693.9 L963.8 693.3 L977.8 692.4 L991.9 691.3 L1006.0 689.9 L1020.0 688.3 L1034.0 686.5 L1048.0 684.4 L1061.9 682.0 L1075.8 679.4 L1089.6 676.6 L1103.4 673.5 L1117.1 670.2 L1130.8 666.6 L1144.4 662.8 L1157.9 658.8 L1171.4 654.5 L1184.8 650.0 L1198.1 645.2 L1211.3 640.2 L1224.4 635.0 L1237.5 629.6 L1250.4 623.9 L1263.2 618.0 L1275.9 611.9 L1288.6 605.5 L1301.1 599.0 L1313.5 592.2 L1325.7 585.2 L1337.9 578.0 L1349.9 570.5 L1361.7 562.9 L1373.5 555.0 L1385.1 547.0 L1396.6 538.7 L1407.9 530.3 L1419.0 521.6 L1430.0 512.8 L1440.9 503.7 L1451.6 494.5 L1462.1 485.1 L1472.5 475.5 L1482.6 465.7 L1492.7 455.7 L1502.5 445.6 L1512.1 435.3 L1521.6 424.8 L1530.9 414.2 " fill="none" stroke="#000" stroke-width="2.9"/>
<path d="M197.5 512.3 L208.5 524.9 L219.8 537.4 L231.3 549.6 L242.9 561.6 L254.8 573.5 L266.9 585.1 L279.2 596.5 L291.7 607.7 L304.4 618.6 L317.3 629.4 L330.4 639.9 L343.6 650.2 L357.1 660.2 L370.7 670.0 L384.5 679.6 L398.4 688.9 L412.5 698.0 L426.8 706.8 L441.2 715.4 L455.8 723.7 L470.5 731.8 L485.3 739.6 L500.3 747.1 L515.4 754.4 L530.7 761.4 L546.0 768.1 L561.5 774.6 L577.1 780.8 L592.8 786.7 L608.6 792.3 L624.5 797.7 L640.5 802.8 L656.5 807.6 L672.7 812.1 L688.9 816.3 L705.2 820.3 L721.6 823.9 L738.0 827.3 L754.5 830.4 L771.1 833.2 L787.6 835.7 L804.3 837.9 L820.9 839.8 L837.6 841.4 L854.4 842.7 L871.1 843.8 L887.9 844.5 L904.6 845.0 L921.4 845.1 L938.2 845.0 L954.9 844.5 L971.7 843.8 L988.4 842.7 L1005.2 841.4 L1021.9 839.8 L1038.5 837.9 L1055.2 835.7 L1071.7 833.2 L1088.3 830.4 L1104.8 827.3 L1121.2 823.9 L1137.6 820.3 L1153.9 816.3 L1170.1 812.1 L1186.3 807.6 L1202.3 802.8 L1218.3 797.7 L1234.2 792.3 L1250.0 786.7 L1265.7 780.8 L1281.3 774.6 L1296.8 768.1 L1312.1 761.4 L1327.4 754.4 L1342.5 747.1 L1357.5 739.6 L1372.3 731.8 L1387.0 723.7 L1401.6 715.4 L1416.0 706.8 L1430.3 698.0 L1444.4 688.9 L1458.3 679.6 L1472.1 670.0 L1485.7 660.2 L1499.2 650.2 L1512.4 639.9 L1525.5 629.4 L1538.4 618.6 L1551.1 607.7 L1563.6 596.5 L1575.9 585.1 L1588.0 573.5 L1599.9 561.6 L1611.5 549.6 L1623.0 537.4 L1634.3 524.9 L1645.3 512.3 L1239.1 163.9 L1234.2 169.4 L1229.3 174.9 L1224.2 180.2 L1219.1 185.5 L1213.9 190.7 L1208.6 195.8 L1203.2 200.8 L1197.7 205.7 L1192.1 210.5 L1186.5 215.2 L1180.7 219.9 L1174.9 224.4 L1169.0 228.8 L1163.1 233.1 L1157.0 237.3 L1150.9 241.4 L1144.7 245.3 L1138.4 249.2 L1132.1 253.0 L1125.7 256.6 L1119.3 260.2 L1112.8 263.6 L1106.2 266.9 L1099.5 270.1 L1092.9 273.2 L1086.1 276.1 L1079.3 279.0 L1072.5 281.7 L1065.6 284.3 L1058.7 286.7 L1051.7 289.1 L1044.7 291.3 L1037.6 293.4 L1030.5 295.4 L1023.4 297.3 L1016.3 299.0 L1009.1 300.6 L1001.9 302.1 L994.6 303.4 L987.4 304.7 L980.1 305.8 L972.8 306.7 L965.5 307.6 L958.2 308.3 L950.8 308.9 L943.5 309.3 L936.1 309.6 L928.8 309.8 L921.4 309.9 L914.0 309.8 L906.7 309.6 L899.3 309.3 L892.0 308.9 L884.6 308.3 L877.3 307.6 L870.0 306.7 L862.7 305.8 L855.4 304.7 L848.2 303.4 L840.9 302.1 L833.7 300.6 L826.5 299.0 L819.4 297.3 L812.3 295.4 L805.2 293.4 L798.1 291.3 L791.1 289.1 L784.1 286.7 L777.2 284.3 L770.3 281.7 L763.5 279.0 L756.7 276.1 L749.9 273.2 L743.3 270.1 L736.6 266.9 L730.0 263.6 L723.5 260.2 L717.1 256.6 L710.7 253.0 L704.4 249.2 L698.1 245.3 L691.9 241.4 L685.8 237.3 L679.7 233.1 L673.8 228.8 L667.9 224.4 L662.1 219.9 L656.3 215.2 L650.7 210.5 L645.1 205.7 L639.6 200.8 L634.2 195.8 L628.9 190.7 L623.7 185.5 L618.6 180.2 L613.5 174.9 L608.6 169.4 L603.7 163.9 Z" fill="none" stroke="#000" stroke-width="3.0" stroke-linejoin="miter"/>
<circle cx="1571.8" cy="537.3" r="2.6" fill="#000"/>
<text class="cl" transform="translate(604.0 504.5) rotate(-13.0) scale(0.96 1)" x="0" y="18.5" font-size="52.0" text-anchor="middle">.04</text>
<text class="cl" transform="translate(852.8 579.7) rotate(-60.0) scale(0.96 1)" x="0" y="18.5" font-size="52.0" text-anchor="middle">.04</text>
<text class="cl" transform="translate(1052.0 608.0) rotate(65.0) scale(0.96 1)" x="0" y="18.5" font-size="52.0" text-anchor="middle">.04</text>
<text class="cl" transform="translate(1171.5 518.0) rotate(-35.0) scale(0.96 1)" x="0" y="18.5" font-size="52.0" text-anchor="middle">.04</text>
<text class="cl" transform="translate(1313.5 418.5) rotate(-31.0) scale(0.96 1)" x="0" y="18.5" font-size="52.0" text-anchor="middle">.04</text>
<text class="cl" transform="translate(657.1 699.5) rotate(-25.0) scale(0.96 1)" x="0" y="18.5" font-size="52.0" text-anchor="middle">.02</text>
<rect x="1813.30" y="144.90" width="60.40" height="81.00" fill="#FF1414" stroke="#000" stroke-width="3"/>
<rect x="1813.30" y="225.90" width="60.40" height="81.00" fill="#FF4040" stroke="#000" stroke-width="3"/>
<rect x="1813.30" y="306.90" width="60.40" height="81.00" fill="#FF6A6A" stroke="#000" stroke-width="3"/>
<rect x="1813.30" y="387.90" width="60.40" height="81.00" fill="#FF9090" stroke="#000" stroke-width="3"/>
<rect x="1813.30" y="468.90" width="60.40" height="81.00" fill="#FFB4B4" stroke="#000" stroke-width="3"/>
<rect x="1813.30" y="549.90" width="60.40" height="81.00" fill="#FFD6D6" stroke="#000" stroke-width="3"/>
<rect x="1813.30" y="630.90" width="60.40" height="81.00" fill="#AAC4FF" stroke="#000" stroke-width="3"/>
<rect x="1813.30" y="711.90" width="60.40" height="81.00" fill="#508CFF" stroke="#000" stroke-width="3"/>
<rect x="1813.30" y="792.90" width="60.40" height="81.00" fill="#0050FF" stroke="#000" stroke-width="3"/>
</g>
<g id="panel-b">
<defs><clipPath id="bclip"><rect x="180.60" y="1086.40" width="1580.80" height="338.50"/></clipPath></defs>
<g clip-path="url(#bclip)">
<rect x="178.60" y="1084.40" width="1584.80" height="342.50" fill="#008C00"/>
<path d="M454.8 1084.3 L453.2 1099.8 L442.4 1115.2 L433.1 1133.8 L422.3 1155.5 L423.8 1183.3 L420.7 1205.0 L413.0 1218.9 L416.1 1236.0 L422.3 1248.3 L422.3 1273.1 L417.6 1290.1 L406.8 1304.0 L400.6 1322.6 L399.0 1338.1 L396.0 1350.5 L399.0 1362.9 L411.4 1372.1 L423.8 1383.0 L436.2 1379.9 L451.7 1373.7 L464.0 1379.9 L478.0 1386.1 L510.5 1400.0 L550.7 1412.4 L581.7 1413.9 L603.3 1415.5 L628.1 1410.8 L643.6 1400.0 L652.9 1389.2 L671.4 1387.6 L690.0 1379.9 L698.0 1370.6 L711.9 1372.1 L721.2 1376.8 L739.8 1350.5 L752.1 1359.8 L763.0 1369.0 L775.4 1367.5 L786.2 1355.1 L803.2 1352.0 L823.3 1364.4 L841.9 1378.3 L857.4 1389.2 L879.0 1396.9 L897.6 1407.7 L922.4 1406.2 L947.1 1410.8 L968.8 1415.5 L981.2 1427.9 L1026.1 1427.9 L1018.3 1412.4 L1016.8 1404.6 L1024.5 1378.3 L1035.4 1344.3 L1035.4 1307.1 L1026.1 1294.8 L1012.1 1288.6 L995.1 1293.2 L978.1 1282.4 L959.5 1266.9 L937.9 1248.3 L922.4 1234.4 L908.4 1223.6 L906.9 1211.2 L910.0 1198.8 L919.3 1180.2 L903.8 1153.0 L925.5 1143.1 L945.6 1130.1 L953.3 1141.5 L956.4 1157.0 L975.0 1166.3 L995.1 1178.7 L1021.4 1152.4 L1039.4 1132.3 L1033.8 1118.3 L1029.2 1099.8 L1026.1 1081.2 Z" fill="#006400"/>
<path d="M454.8 1084.3 L453.2 1099.8 L442.4 1115.2 L433.1 1133.8 L422.3 1155.5 L423.8 1183.3 L420.7 1205.0 L413.0 1218.9 L416.1 1236.0 L422.3 1248.3 L422.3 1273.1 L417.6 1290.1 L406.8 1304.0 L400.6 1322.6 L399.0 1338.1 L396.0 1350.5 L399.0 1362.9 L411.4 1372.1 L423.8 1383.0 L436.2 1379.9 L451.7 1373.7 L464.0 1379.9 L478.0 1386.1 " fill="none" stroke="#000" stroke-width="4.8" stroke-linejoin="round" stroke-linecap="round"/>
<path d="M581.7 1413.9 L603.3 1415.5 L628.1 1410.8 L643.6 1400.0 L652.9 1389.2 L671.4 1387.6 L690.0 1379.9 L698.0 1370.6 L711.9 1372.1 L721.2 1376.8 L739.8 1350.5 L752.1 1359.8 L763.0 1369.0 L775.4 1367.5 L786.2 1355.1 L803.2 1352.0 L823.3 1364.4 L841.9 1378.3 L857.4 1389.2 L879.0 1396.9 L897.6 1407.7 L922.4 1406.2 L947.1 1410.8 L968.8 1415.5 L981.2 1427.9 " fill="none" stroke="#000" stroke-width="4.8" stroke-linejoin="round" stroke-linecap="round"/>
<path d="M1026.1 1427.9 L1018.3 1412.4 L1016.8 1404.6 " fill="none" stroke="#000" stroke-width="4.8" stroke-linejoin="round" stroke-linecap="round"/>
<path d="M1035.4 1307.1 L1026.1 1294.8 L1012.1 1288.6 L995.1 1293.2 L978.1 1282.4 L959.5 1266.9 L937.9 1248.3 L922.4 1234.4 L908.4 1223.6 L906.9 1211.2 L910.0 1198.8 L919.3 1180.2 L903.8 1153.0 L925.5 1143.1 L945.6 1130.1 L953.3 1141.5 L956.4 1157.0 L975.0 1166.3 L995.1 1178.7 L1021.4 1152.4 L1039.4 1132.3 L1033.8 1118.3 L1029.2 1099.8 L1026.1 1081.2 " fill="none" stroke="#000" stroke-width="4.8" stroke-linejoin="round" stroke-linecap="round"/>
<path d="M176.2 1214.3 L194.8 1222.0 L202.5 1240.6 L210.2 1220.5 L244.3 1195.7 L262.9 1198.8 L284.5 1206.5 L306.2 1212.7 L324.8 1223.6 L351.1 1249.9 L349.5 1263.8 L334.0 1279.3 L321.7 1285.5 L309.3 1287.0 L293.8 1279.3 L269.0 1290.1 L267.5 1276.2 L259.8 1263.8 L244.3 1260.7 L224.2 1236.6 L204.0 1243.7 L176.2 1253.0 Z" fill="#006400"/>
<path d="M176.2 1214.3 L194.8 1222.0 L202.5 1240.6 L210.2 1220.5 L244.3 1195.7 L262.9 1198.8 L284.5 1206.5 L306.2 1212.7 L324.8 1223.6 L351.1 1249.9 L349.5 1263.8 L334.0 1279.3 L321.7 1285.5 L309.3 1287.0 L293.8 1279.3 L269.0 1290.1 L267.5 1276.2 L259.8 1263.8 L244.3 1260.7 L224.2 1236.6 L204.0 1243.7 L176.2 1253.0 " fill="none" stroke="#000" stroke-width="4.8" stroke-linejoin="round" stroke-linecap="round"/>
<path d="M1232.1 1157.0 L1238.3 1146.2 L1260.0 1140.0 L1284.8 1130.7 L1298.7 1133.8 L1306.4 1155.5 L1311.1 1177.1 L1291.0 1201.9 L1275.5 1198.8 L1260.0 1191.1 L1244.5 1174.0 L1232.1 1157.0 Z" fill="#006400"/>
<path d="M1232.1 1157.0 L1238.3 1146.2 L1260.0 1140.0 L1284.8 1130.7 L1298.7 1133.8 L1306.4 1155.5 L1311.1 1177.1 L1291.0 1201.9 L1275.5 1198.8 L1260.0 1191.1 L1244.5 1174.0 L1232.1 1157.0 " fill="none" stroke="#000" stroke-width="4.8" stroke-linejoin="round" stroke-linecap="round"/>
<path d="M1456.4 1174.6 L1457.5 1156.4 L1475.7 1132.9 L1491.8 1126.4 L1503.6 1139.3 L1512.1 1152.1 L1535.7 1131.8 L1559.3 1131.8 L1582.9 1131.1 L1602.1 1126.4 L1625.7 1120.0 L1645.0 1109.3 L1666.4 1098.6 L1687.9 1095.4 L1709.3 1096.4 L1730.7 1101.8 L1767.1 1108.2 L1767.1 1246.4 L1747.9 1233.6 L1730.7 1234.6 L1717.9 1242.1 L1705.0 1233.6 L1692.1 1231.4 L1672.9 1250.7 L1661.1 1266.8 L1668.6 1276.4 L1677.1 1292.5 L1650.4 1312.9 L1634.3 1304.3 L1621.4 1303.2 L1608.6 1315.0 L1595.7 1316.1 L1580.7 1300.0 L1565.7 1283.9 L1567.9 1271.1 L1557.1 1257.1 L1546.4 1246.4 L1547.5 1231.4 L1544.3 1216.4 L1537.9 1205.7 L1505.7 1205.7 L1475.7 1190.7 Z" fill="#006400"/>
<path d="M1456.4 1174.6 L1457.5 1156.4 L1475.7 1132.9 L1491.8 1126.4 L1503.6 1139.3 L1512.1 1152.1 L1535.7 1131.8 L1559.3 1131.8 L1582.9 1131.1 L1602.1 1126.4 L1625.7 1120.0 L1645.0 1109.3 L1666.4 1098.6 L1687.9 1095.4 L1709.3 1096.4 L1730.7 1101.8 L1767.1 1108.2 " fill="none" stroke="#000" stroke-width="4.8" stroke-linejoin="round" stroke-linecap="round"/>
<path d="M1767.1 1246.4 L1747.9 1233.6 L1730.7 1234.6 L1717.9 1242.1 L1705.0 1233.6 L1692.1 1231.4 L1672.9 1250.7 L1661.1 1266.8 L1668.6 1276.4 L1677.1 1292.5 L1650.4 1312.9 L1634.3 1304.3 L1621.4 1303.2 L1608.6 1315.0 L1595.7 1316.1 L1580.7 1300.0 L1565.7 1283.9 L1567.9 1271.1 L1557.1 1257.1 L1546.4 1246.4 L1547.5 1231.4 L1544.3 1216.4 L1537.9 1205.7 " fill="none" stroke="#000" stroke-width="4.8" stroke-linejoin="round" stroke-linecap="round"/>
<path d="M1767.1 1259.3 L1745.7 1265.7 L1741.4 1278.6 L1743.6 1293.6 L1750.0 1306.4 L1767.1 1315.0 Z" fill="#006400"/>
<path d="M1767.1 1259.3 L1745.7 1265.7 L1741.4 1278.6 L1743.6 1293.6 L1750.0 1306.4 L1767.1 1315.0 " fill="none" stroke="#000" stroke-width="4.8" stroke-linejoin="round" stroke-linecap="round"/>
<path d="M504.6 1085.4 L495.7 1101.4 L491.2 1111.2 L499.3 1125.5 L495.7 1138.9 L489.5 1153.2 L495.7 1165.7 L504.6 1179.1 L518.9 1188.0 L533.2 1195.2 L547.5 1195.2 L560.0 1187.1 L576.1 1178.2 L565.4 1172.0 L549.3 1151.4 L536.8 1135.4 L540.4 1121.1 L552.9 1113.0 L567.1 1106.8 L576.1 1106.8 L583.2 1108.6 L593.9 1115.7 L606.4 1128.2 L602.9 1140.7 L601.1 1156.8 L611.8 1163.9 L627.9 1175.5 L645.7 1173.8 L674.3 1171.1 L701.1 1165.7 L727.9 1161.2 L749.3 1158.6 L760.0 1160.4 L773.8 1163.2 L795.5 1164.8 L814.0 1166.3 L824.9 1157.0 L821.8 1127.6 L826.4 1112.1 L838.8 1106.0 L854.3 1096.7 L872.9 1098.2 L885.2 1101.3 L903.8 1096.7 L922.4 1093.6 L944.0 1081.2 Z" fill="#004C00"/>
<path d="M504.6 1085.4 L495.7 1101.4 L491.2 1111.2 L499.3 1125.5 L495.7 1138.9 L489.5 1153.2 L495.7 1165.7 L504.6 1179.1 L518.9 1188.0 L533.2 1195.2 L547.5 1195.2 L560.0 1187.1 L576.1 1178.2 L565.4 1172.0 " fill="none" stroke="#000" stroke-width="4.8" stroke-linejoin="round" stroke-linecap="round"/>
<path d="M576.1 1106.8 L583.2 1108.6 L593.9 1115.7 L606.4 1128.2 L602.9 1140.7 L601.1 1156.8 L611.8 1163.9 L627.9 1175.5 L645.7 1173.8 L674.3 1171.1 L701.1 1165.7 L727.9 1161.2 L749.3 1158.6 L760.0 1160.4 L773.8 1163.2 L795.5 1164.8 L814.0 1166.3 L824.9 1157.0 L821.8 1127.6 L826.4 1112.1 L838.8 1106.0 L854.3 1096.7 L872.9 1098.2 L885.2 1101.3 L903.8 1096.7 L922.4 1093.6 L944.0 1081.2 " fill="none" stroke="#000" stroke-width="4.8" stroke-linejoin="round" stroke-linecap="round"/>
<path d="M454.8 1310.2 L467.1 1297.9 L495.0 1285.5 L510.5 1297.9 L533.7 1312.7 L516.7 1328.8 L498.1 1344.3 L479.5 1341.2 L464.0 1331.9 L457.9 1321.1 L454.8 1310.2 Z" fill="#004C00"/>
<path d="M454.8 1310.2 L467.1 1297.9 L495.0 1285.5 L510.5 1297.9 L533.7 1312.7 L516.7 1328.8 L498.1 1344.3 L479.5 1341.2 L464.0 1331.9 L457.9 1321.1 L454.8 1310.2 " fill="none" stroke="#000" stroke-width="4.8" stroke-linejoin="round" stroke-linecap="round"/>
<path d="M485.7 1313.3 L490.4 1297.9 L502.7 1296.3 L507.4 1311.8 L495.0 1322.6 L485.7 1313.3 Z" fill="#004C00"/>
<path d="M485.7 1313.3 L490.4 1297.9 L502.7 1296.3 L507.4 1311.8 L495.0 1322.6 L485.7 1313.3 " fill="none" stroke="#000" stroke-width="4.8" stroke-linejoin="round" stroke-linecap="round"/>
<path d="M593.0 1266.6 L605.5 1257.7 L618.9 1263.0 L616.2 1279.1 L601.1 1281.8 L593.0 1266.6 Z" fill="#004C00"/>
<path d="M593.0 1266.6 L605.5 1257.7 L618.9 1263.0 L616.2 1279.1 L601.1 1281.8 L593.0 1266.6 " fill="none" stroke="#000" stroke-width="4.8" stroke-linejoin="round" stroke-linecap="round"/>
<path d="M1767.1 1127.5 L1739.3 1131.8 L1767.1 1140.4 Z" fill="#004C00"/>
<path d="M1767.1 1127.5 L1739.3 1131.8 L1767.1 1140.4 " fill="none" stroke="#000" stroke-width="4.8" stroke-linejoin="round" stroke-linecap="round"/>
<path d="M718.1 1226.7 L724.3 1208.1 L733.6 1198.8 L746.0 1192.6 L767.6 1194.2 L790.8 1197.3 L804.8 1208.1 L818.7 1217.4 L828.0 1228.2 L823.3 1242.1 L804.8 1251.4 L792.4 1259.2 L776.9 1251.4 L766.1 1245.2 L752.1 1253.0 L738.2 1253.0 L727.4 1239.0 L718.1 1226.7 Z" fill="#008C00"/>
<path d="M718.1 1226.7 L724.3 1208.1 L733.6 1198.8 L746.0 1192.6 L767.6 1194.2 L790.8 1197.3 L804.8 1208.1 L818.7 1217.4 L828.0 1228.2 L823.3 1242.1 L804.8 1251.4 L792.4 1259.2 L776.9 1251.4 L766.1 1245.2 L752.1 1253.0 L738.2 1253.0 L727.4 1239.0 L718.1 1226.7 " fill="none" stroke="#000" stroke-width="4.8" stroke-linejoin="round" stroke-linecap="round"/>
<path d="M673.2 1310.2 L684.0 1288.6 L696.4 1273.1 L708.8 1265.4 L721.2 1253.9 L732.0 1260.7 L735.1 1276.2 L732.0 1291.7 L736.7 1307.1 L732.0 1325.7 L719.6 1347.4 L705.7 1344.3 L690.2 1335.0 L679.4 1322.6 L673.2 1310.2 Z" fill="#008C00"/>
<path d="M673.2 1310.2 L684.0 1288.6 L696.4 1273.1 L708.8 1265.4 L721.2 1253.9 L732.0 1260.7 L735.1 1276.2 L732.0 1291.7 L736.7 1307.1 L732.0 1325.7 L719.6 1347.4 L705.7 1344.3 L690.2 1335.0 L679.4 1322.6 L673.2 1310.2 " fill="none" stroke="#000" stroke-width="4.8" stroke-linejoin="round" stroke-linecap="round"/>
<path d="M817.1 1308.7 L832.6 1305.6 L848.1 1311.8 L860.5 1314.9 L869.8 1325.7 L879.0 1341.2 L897.6 1355.1 L906.9 1356.7 L923.9 1376.8 L906.9 1359.8 L888.3 1362.9 L879.0 1358.2 L863.6 1347.4 L848.1 1348.9 L835.7 1358.2 L841.9 1344.3 L845.0 1331.9 L838.8 1319.5 L817.1 1308.7 Z" fill="#006400"/>
<path d="M817.1 1308.7 L832.6 1305.6 L848.1 1311.8 L860.5 1314.9 L869.8 1325.7 L879.0 1341.2 L897.6 1355.1 L906.9 1356.7 L923.9 1376.8 L906.9 1359.8 L888.3 1362.9 L879.0 1358.2 L863.6 1347.4 L848.1 1348.9 L835.7 1358.2 L841.9 1344.3 L845.0 1331.9 L838.8 1319.5 L817.1 1308.7 " fill="none" stroke="#000" stroke-width="4.8" stroke-linejoin="round" stroke-linecap="round"/>
<path d="M176.2 1167.9 L204.0 1174.0 L225.7 1167.9 L250.5 1164.8 L272.1 1158.6 L300.0 1155.5 L312.4 1149.3 L332.5 1130.7 L327.9 1109.0 L323.2 1081.2 L176.2 1081.2 Z" fill="#50C028"/>
<path d="M176.2 1167.9 L204.0 1174.0 L225.7 1167.9 L250.5 1164.8 L272.1 1158.6 L300.0 1155.5 L312.4 1149.3 L332.5 1130.7 L327.9 1109.0 L323.2 1081.2 " fill="none" stroke="#000" stroke-width="4.8" stroke-linejoin="round" stroke-linecap="round"/>
<path d="M320.1 1157.0 L331.0 1141.5 L349.5 1134.4 L365.0 1134.4 L380.5 1149.3 L389.8 1164.8 L390.4 1180.2 L383.6 1195.7 L365.0 1207.5 L349.5 1201.9 L334.0 1183.3 L321.7 1169.4 L320.1 1157.0 Z" fill="#50C028"/>
<path d="M320.1 1157.0 L331.0 1141.5 L349.5 1134.4 L365.0 1134.4 L380.5 1149.3 L389.8 1164.8 L390.4 1180.2 L383.6 1195.7 L365.0 1207.5 L349.5 1201.9 L334.0 1183.3 L321.7 1169.4 L320.1 1157.0 " fill="none" stroke="#000" stroke-width="4.8" stroke-linejoin="round" stroke-linecap="round"/>
<path d="M176.2 1277.7 L197.9 1276.2 L207.1 1282.4 L219.5 1294.8 L230.4 1304.0 L233.5 1316.4 L224.2 1333.4 L239.6 1328.8 L252.0 1327.3 L266.0 1341.2 L275.2 1345.8 L290.7 1338.1 L303.1 1325.7 L318.6 1311.8 L337.1 1299.4 L352.6 1302.5 L368.1 1308.7 L371.2 1322.6 L366.5 1338.1 L355.7 1353.6 L358.8 1365.9 L368.1 1381.4 L377.4 1396.9 L386.7 1403.1 L380.5 1412.4 L358.8 1413.9 L355.7 1427.9 L176.2 1427.9 Z" fill="#50C028"/>
<path d="M176.2 1277.7 L197.9 1276.2 L207.1 1282.4 L219.5 1294.8 L230.4 1304.0 L233.5 1316.4 L224.2 1333.4 L239.6 1328.8 L252.0 1327.3 L266.0 1341.2 L275.2 1345.8 L290.7 1338.1 L303.1 1325.7 L318.6 1311.8 L337.1 1299.4 L352.6 1302.5 L368.1 1308.7 L371.2 1322.6 L366.5 1338.1 L355.7 1353.6 L358.8 1365.9 L368.1 1381.4 L377.4 1396.9 L386.7 1403.1 L380.5 1412.4 L358.8 1413.9 L355.7 1427.9 " fill="none" stroke="#000" stroke-width="4.8" stroke-linejoin="round" stroke-linecap="round"/>
<path d="M406.8 1427.9 L426.9 1409.3 L448.6 1410.8 L473.3 1412.4 L493.4 1427.9 Z" fill="#50C028"/>
<path d="M406.8 1427.9 L426.9 1409.3 L448.6 1410.8 L473.3 1412.4 L493.4 1427.9 " fill="none" stroke="#000" stroke-width="4.8" stroke-linejoin="round" stroke-linecap="round"/>
<path d="M660.8 1427.9 L674.8 1412.4 L702.6 1409.3 L728.9 1404.6 L747.5 1427.9 Z" fill="#50C028"/>
<path d="M660.8 1427.9 L674.8 1412.4 L702.6 1409.3 L728.9 1404.6 L747.5 1427.9 " fill="none" stroke="#000" stroke-width="4.8" stroke-linejoin="round" stroke-linecap="round"/>
<path d="M826.4 1427.9 L848.1 1415.5 L866.7 1417.9 L880.6 1427.9 Z" fill="#50C028"/>
<path d="M826.4 1427.9 L848.1 1415.5 L866.7 1417.9 L880.6 1427.9 " fill="none" stroke="#000" stroke-width="4.8" stroke-linejoin="round" stroke-linecap="round"/>
<path d="M1057.0 1081.2 L1069.4 1113.7 L1061.7 1126.1 L1063.2 1155.5 L1049.3 1174.0 L1041.5 1197.3 L1046.2 1214.3 L1053.9 1226.7 L1055.5 1242.1 L1064.8 1254.5 L1078.7 1263.8 L1089.5 1276.2 L1098.8 1285.5 L1112.7 1288.6 L1126.7 1282.4 L1139.0 1270.0 L1142.4 1266.9 L1157.9 1251.4 L1170.2 1234.4 L1191.9 1215.8 L1188.8 1201.9 L1179.5 1188.0 L1164.0 1178.7 L1148.6 1166.3 L1130.0 1157.0 L1126.7 1153.9 L1122.0 1140.0 L1148.6 1121.4 L1182.6 1104.4 L1208.9 1107.5 L1232.1 1118.3 L1253.8 1116.8 L1278.6 1110.6 L1309.5 1101.3 L1340.5 1107.5 L1348.2 1115.2 L1348.2 1143.1 L1335.8 1177.1 L1352.9 1189.5 L1365.2 1200.4 L1374.5 1208.1 L1385.4 1208.1 L1396.2 1197.3 L1405.5 1180.2 L1413.2 1155.5 L1424.0 1141.5 L1433.3 1126.1 L1451.9 1110.6 L1470.5 1104.4 L1489.0 1112.1 L1504.5 1106.0 L1516.9 1104.4 L1540.0 1115.7 L1591.4 1107.1 L1621.4 1097.5 L1640.7 1091.1 L1645.0 1083.6 Z" fill="#50C028"/>
<path d="M1057.0 1081.2 L1069.4 1113.7 L1061.7 1126.1 L1063.2 1155.5 L1049.3 1174.0 L1041.5 1197.3 L1046.2 1214.3 L1053.9 1226.7 L1055.5 1242.1 L1064.8 1254.5 L1078.7 1263.8 L1089.5 1276.2 L1098.8 1285.5 L1112.7 1288.6 L1126.7 1282.4 L1139.0 1270.0 L1142.4 1266.9 L1157.9 1251.4 L1170.2 1234.4 L1191.9 1215.8 L1188.8 1201.9 L1179.5 1188.0 L1164.0 1178.7 L1148.6 1166.3 L1130.0 1157.0 L1126.7 1153.9 L1122.0 1140.0 " fill="none" stroke="#000" stroke-width="4.8" stroke-linejoin="round" stroke-linecap="round"/>
<path d="M1208.9 1107.5 L1232.1 1118.3 L1253.8 1116.8 L1278.6 1110.6 L1309.5 1101.3 L1340.5 1107.5 L1348.2 1115.2 L1348.2 1143.1 L1335.8 1177.1 L1352.9 1189.5 L1365.2 1200.4 L1374.5 1208.1 L1385.4 1208.1 L1396.2 1197.3 L1405.5 1180.2 L1413.2 1155.5 L1424.0 1141.5 L1433.3 1126.1 L1451.9 1110.6 L1470.5 1104.4 L1489.0 1112.1 L1504.5 1106.0 L1516.9 1104.4 " fill="none" stroke="#000" stroke-width="4.8" stroke-linejoin="round" stroke-linecap="round"/>
<path d="M1621.4 1097.5 L1640.7 1091.1 L1645.0 1083.6 " fill="none" stroke="#000" stroke-width="4.8" stroke-linejoin="round" stroke-linecap="round"/>
<path d="M1058.6 1427.9 L1057.0 1403.1 L1064.8 1390.7 L1086.4 1379.9 L1108.1 1381.4 L1129.8 1381.4 L1148.3 1375.2 L1160.7 1359.8 L1179.5 1338.1 L1195.0 1319.5 L1210.5 1310.2 L1226.0 1291.7 L1244.5 1280.8 L1253.8 1302.5 L1266.2 1314.9 L1281.7 1325.7 L1297.1 1338.1 L1312.6 1344.3 L1328.1 1356.7 L1340.5 1372.1 L1352.9 1384.5 L1362.1 1393.8 L1369.9 1406.2 L1371.4 1427.9 Z" fill="#50C028"/>
<path d="M1058.6 1427.9 L1057.0 1403.1 L1064.8 1390.7 L1086.4 1379.9 L1108.1 1381.4 L1129.8 1381.4 L1148.3 1375.2 L1160.7 1359.8 L1179.5 1338.1 L1195.0 1319.5 L1210.5 1310.2 L1226.0 1291.7 L1244.5 1280.8 L1253.8 1302.5 L1266.2 1314.9 L1281.7 1325.7 L1297.1 1338.1 L1312.6 1344.3 L1328.1 1356.7 L1340.5 1372.1 L1352.9 1384.5 L1362.1 1393.8 L1369.9 1406.2 L1371.4 1427.9 " fill="none" stroke="#000" stroke-width="4.8" stroke-linejoin="round" stroke-linecap="round"/>
<path d="M1535.7 1357.9 L1548.6 1351.4 L1561.4 1346.1 L1574.3 1347.1 L1589.3 1353.6 L1602.1 1365.4 L1612.9 1355.7 L1634.3 1342.9 L1649.3 1331.1 L1666.4 1324.6 L1687.9 1321.4 L1709.3 1322.5 L1730.7 1326.8 L1745.7 1336.4 L1767.1 1347.1 L1767.1 1430.7 L1451.9 1427.9 L1451.9 1423.2 L1468.9 1407.7 L1468.9 1400.0 L1467.9 1379.8 L1512.9 1379.8 L1512.9 1356.9 Z" fill="#50C028"/>
<path d="M1535.7 1357.9 L1548.6 1351.4 L1561.4 1346.1 L1574.3 1347.1 L1589.3 1353.6 L1602.1 1365.4 L1612.9 1355.7 L1634.3 1342.9 L1649.3 1331.1 L1666.4 1324.6 L1687.9 1321.4 L1709.3 1322.5 L1730.7 1326.8 L1745.7 1336.4 L1767.1 1347.1 " fill="none" stroke="#000" stroke-width="4.8" stroke-linejoin="round" stroke-linecap="round"/>
<path d="M1451.9 1423.2 L1468.9 1407.7 L1468.9 1400.0 " fill="none" stroke="#000" stroke-width="4.8" stroke-linejoin="round" stroke-linecap="round"/>
<path d="M1443.8 1339.0 L1443.2 1328.3 L1448.6 1316.4 L1458.1 1304.5 L1471.2 1293.8 L1483.1 1285.5 L1497.4 1286.1 L1503.3 1292.6 L1508.1 1302.1 L1511.1 1310.5 L1501.0 1323.6 L1465.2 1341.4 Z" fill="#50C028"/>
<path d="M1443.8 1339.0 L1443.2 1328.3 L1448.6 1316.4 L1458.1 1304.5 L1471.2 1293.8 L1483.1 1285.5 L1497.4 1286.1 L1503.3 1292.6 L1508.1 1302.1 L1511.1 1310.5 " fill="none" stroke="#000" stroke-width="4.8" stroke-linejoin="round" stroke-linecap="round"/>
<path d="M1466.4 1334.9 L1471.2 1327.1 L1479.5 1322.4 L1490.2 1316.4 L1489.0 1326.0 L1477.1 1336.7 Z" fill="#A8DC84"/>
<path d="M1466.4 1334.9 L1471.2 1327.1 L1479.5 1322.4 L1490.2 1316.4 " fill="none" stroke="#000" stroke-width="4.8" stroke-linejoin="round" stroke-linecap="round"/>
<path d="M176.2 1099.8 L201.0 1088.9 L225.7 1088.9 L236.5 1095.1 L244.3 1107.5 L222.6 1123.0 L204.0 1132.3 L191.7 1130.7 L176.2 1123.0 Z" fill="#A8DC84"/>
<path d="M176.2 1099.8 L201.0 1088.9 L225.7 1088.9 L236.5 1095.1 L244.3 1107.5 L222.6 1123.0 L204.0 1132.3 L191.7 1130.7 L176.2 1123.0 " fill="none" stroke="#000" stroke-width="4.8" stroke-linejoin="round" stroke-linecap="round"/>
<path d="M241.2 1123.0 L252.0 1118.3 L254.2 1133.2 L242.7 1133.8 L241.2 1123.0 Z" fill="#A8DC84"/>
<path d="M241.2 1123.0 L252.0 1118.3 L254.2 1133.2 L242.7 1133.8 L241.2 1123.0 " fill="none" stroke="#000" stroke-width="4.8" stroke-linejoin="round" stroke-linecap="round"/>
<path d="M204.0 1425.7 L200.7 1407.1 L197.9 1395.0 L205.7 1382.9 L221.4 1382.1 L234.3 1374.3 L245.7 1371.1 L268.6 1371.1 L282.9 1377.9 L295.7 1383.6 L307.1 1395.7 L307.1 1411.4 L301.4 1425.7 Z" fill="#A8DC84"/>
<path d="M204.0 1425.7 L200.7 1407.1 L197.9 1395.0 L205.7 1382.9 L221.4 1382.1 L234.3 1374.3 L245.7 1371.1 L268.6 1371.1 L282.9 1377.9 L295.7 1383.6 L307.1 1395.7 L307.1 1411.4 L301.4 1425.7 " fill="none" stroke="#000" stroke-width="4.8" stroke-linejoin="round" stroke-linecap="round"/>
<path d="M1080.0 1425.7 L1087.1 1412.9 L1098.6 1405.7 L1111.4 1401.4 L1128.6 1397.1 L1141.4 1402.1 L1155.7 1405.0 L1171.4 1402.9 L1182.9 1406.4 L1195.7 1414.3 L1210.0 1425.7 Z" fill="#A8DC84"/>
<path d="M1080.0 1425.7 L1087.1 1412.9 L1098.6 1405.7 L1111.4 1401.4 L1128.6 1397.1 L1141.4 1402.1 L1155.7 1405.0 L1171.4 1402.9 L1182.9 1406.4 L1195.7 1414.3 L1210.0 1425.7 " fill="none" stroke="#000" stroke-width="4.8" stroke-linejoin="round" stroke-linecap="round"/>
<path d="M1253.8 1427.9 L1260.0 1409.3 L1269.3 1403.1 L1284.8 1407.7 L1303.3 1408.7 L1315.7 1406.2 L1335.8 1427.9 Z" fill="#A8DC84"/>
<path d="M1253.8 1427.9 L1260.0 1409.3 L1269.3 1403.1 L1284.8 1407.7 L1303.3 1408.7 L1315.7 1406.2 L1335.8 1427.9 " fill="none" stroke="#000" stroke-width="4.8" stroke-linejoin="round" stroke-linecap="round"/>
<path d="M1215.1 1084.3 L1232.1 1096.7 L1253.8 1099.8 L1275.5 1095.1 L1289.4 1084.3 Z" fill="#A8DC84"/>
<path d="M1215.1 1084.3 L1232.1 1096.7 L1253.8 1099.8 L1275.5 1095.1 L1289.4 1084.3 " fill="none" stroke="#000" stroke-width="4.8" stroke-linejoin="round" stroke-linecap="round"/>
<path d="M1377.6 1084.3 L1402.4 1095.1 L1427.1 1091.1 L1442.6 1084.3 Z" fill="#A8DC84"/>
<path d="M1377.6 1084.3 L1402.4 1095.1 L1427.1 1091.1 L1442.6 1084.3 " fill="none" stroke="#000" stroke-width="4.8" stroke-linejoin="round" stroke-linecap="round"/>
<path d="M1437.1 1083.6 L1490.7 1098.6 L1505.7 1083.6 Z" fill="#A8DC84"/>
<path d="M1437.1 1083.6 L1490.7 1098.6 L1505.7 1083.6 " fill="none" stroke="#000" stroke-width="4.8" stroke-linejoin="round" stroke-linecap="round"/>
<path d="M1607.1 1425.7 L1625.7 1402.9 L1632.9 1388.6 L1642.9 1375.7 L1654.3 1362.9 L1664.3 1355.0 L1675.7 1352.1 L1694.3 1353.6 L1708.6 1350.0 L1721.4 1352.9 L1734.3 1362.9 L1747.1 1370.7 L1768.6 1378.6 L1768.6 1425.7 Z" fill="#A8DC84"/>
<path d="M1607.1 1425.7 L1625.7 1402.9 L1632.9 1388.6 L1642.9 1375.7 L1654.3 1362.9 L1664.3 1355.0 L1675.7 1352.1 L1694.3 1353.6 L1708.6 1350.0 L1721.4 1352.9 L1734.3 1362.9 L1747.1 1370.7 L1768.6 1378.6 " fill="none" stroke="#000" stroke-width="4.8" stroke-linejoin="round" stroke-linecap="round"/>
<path d="M262.9 1112.1 L267.5 1102.9 L276.8 1107.5 L262.9 1112.1 Z" fill="#008C00" stroke="#000" stroke-width="4.8" stroke-linejoin="round"/>
<path d="M877.5 1126.1 L893.0 1132.3 L879.0 1138.5 L877.5 1126.1 Z" fill="#004C00" stroke="#000" stroke-width="4.8" stroke-linejoin="round"/>
<path d="M984.3 1157.0 L990.5 1149.3 L1005.9 1155.5 L996.7 1169.4 L984.3 1157.0 Z" fill="#008C00" stroke="#000" stroke-width="4.8" stroke-linejoin="round"/>
<path d="M968.8 1216.5 L982.7 1222.0 L968.8 1226.7 L968.8 1216.5 Z" fill="#006400" stroke="#000" stroke-width="4.8" stroke-linejoin="round"/>
<path d="M993.6 1236.0 L1009.0 1243.7 L993.6 1246.8 L993.6 1236.0 Z" fill="#006400" stroke="#000" stroke-width="4.8" stroke-linejoin="round"/>
<path d="M894.5 1239.0 L905.4 1230.7 L913.1 1243.7 L900.7 1252.0 L894.5 1239.0 Z" fill="#008C00" stroke="#000" stroke-width="4.8" stroke-linejoin="round"/>
<path d="M922.4 1260.7 L933.2 1270.0 L922.4 1271.5 L922.4 1260.7 Z" fill="#004C00" stroke="#000" stroke-width="4.8" stroke-linejoin="round"/>
<path d="M1010.6 1307.1 L1013.7 1296.3 L1026.1 1299.4 L1035.4 1310.2 L1021.4 1316.4 L1010.6 1307.1 Z" fill="#008C00" stroke="#000" stroke-width="4.8" stroke-linejoin="round"/>
<path d="M1098.8 1333.4 L1109.6 1326.3 L1118.9 1333.4 L1109.6 1341.2 L1098.8 1333.4 Z" fill="#50C028" stroke="#000" stroke-width="4.8" stroke-linejoin="round"/>
<path d="M1137.5 1287.0 L1149.9 1277.7 L1160.7 1288.6 L1148.3 1298.5 L1137.5 1287.0 Z" fill="#50C028" stroke="#000" stroke-width="4.8" stroke-linejoin="round"/>
<path d="M1185.7 1174.0 L1202.7 1176.5 L1195.0 1189.5 L1185.7 1174.0 Z" fill="#50C028" stroke="#000" stroke-width="4.8" stroke-linejoin="round"/>
<path d="M1205.8 1218.9 L1218.2 1211.2 L1226.0 1220.5 L1215.1 1228.2 L1205.8 1218.9 Z" fill="#50C028" stroke="#000" stroke-width="4.8" stroke-linejoin="round"/>
<path d="M1185.7 1240.6 L1193.5 1228.2 L1205.8 1229.8 L1209.9 1243.7 L1198.1 1253.0 L1185.7 1240.6 Z" fill="#50C028" stroke="#000" stroke-width="4.8" stroke-linejoin="round"/>
<path d="M1232.1 1243.7 L1241.4 1233.5 L1251.6 1244.6 L1242.0 1256.1 L1232.1 1243.7 Z" fill="#50C028" stroke="#000" stroke-width="4.8" stroke-linejoin="round"/>
<path d="M1162.5 1265.4 L1173.3 1256.1 L1182.6 1266.9 L1173.3 1276.2 L1162.5 1265.4 Z" fill="#50C028" stroke="#000" stroke-width="4.8" stroke-linejoin="round"/>
<path d="M1212.0 1268.5 L1221.3 1256.1 L1232.1 1266.9 L1226.0 1279.3 L1215.1 1277.7 L1212.0 1268.5 Z" fill="#50C028" stroke="#000" stroke-width="4.8" stroke-linejoin="round"/>
<path d="M1193.5 1288.6 L1207.4 1288.6 L1199.6 1302.5 L1193.5 1288.6 Z" fill="#50C028" stroke="#000" stroke-width="4.8" stroke-linejoin="round"/>
<path d="M1258.5 1260.7 L1269.3 1267.5 L1260.0 1273.1 L1258.5 1260.7 Z" fill="#006400" stroke="#000" stroke-width="4.8" stroke-linejoin="round"/>
<path d="M1349.8 1215.8 L1362.1 1222.0 L1351.3 1226.7 L1349.8 1215.8 Z" fill="#006400" stroke="#000" stroke-width="4.8" stroke-linejoin="round"/>
<path d="M1345.1 1355.1 L1360.6 1356.7 L1349.8 1364.4 L1345.1 1355.1 Z" fill="#006400" stroke="#000" stroke-width="4.8" stroke-linejoin="round"/>
<path d="M1366.8 1379.9 L1379.2 1372.1 L1393.1 1381.4 L1386.9 1392.3 L1371.4 1392.3 L1366.8 1379.9 Z" fill="#50C028" stroke="#000" stroke-width="4.8" stroke-linejoin="round"/>
<path d="M1396.2 1398.4 L1405.5 1401.5 L1397.7 1407.7 L1396.2 1398.4 Z" fill="#006400" stroke="#000" stroke-width="4.8" stroke-linejoin="round"/>
<path d="M1664.3 1201.4 L1669.6 1191.8 L1680.4 1199.3 L1673.9 1211.1 L1664.3 1201.4 Z" fill="#008C00" stroke="#000" stroke-width="4.8" stroke-linejoin="round"/>
<path d="M1645.0 1173.6 L1656.8 1177.9 L1648.2 1184.3 L1645.0 1173.6 Z" fill="#004C00" stroke="#000" stroke-width="4.8" stroke-linejoin="round"/>
<path d="M1688.9 1173.6 L1698.6 1177.9 L1692.1 1183.2 L1688.9 1173.6 Z" fill="#004C00" stroke="#000" stroke-width="4.8" stroke-linejoin="round"/>
<path d="M1643.9 1296.8 L1648.2 1282.9 L1661.1 1289.3 L1653.6 1304.3 L1643.9 1296.8 Z" fill="#008C00" stroke="#000" stroke-width="4.8" stroke-linejoin="round"/>
<path d="M1596.8 1342.9 L1598.9 1330.0 L1612.9 1335.4 L1607.5 1349.3 L1596.8 1342.9 Z" fill="#50C028" stroke="#000" stroke-width="4.8" stroke-linejoin="round"/>
<path d="M758.3 1088.9 L780.0 1093.0 L798.6 1088.9 " fill="none" stroke="#000" stroke-width="9.0" stroke-linejoin="round" stroke-linecap="round"/>
<path d="M402.1 1088.9 L408.3 1091.1 L414.5 1088.9 " fill="none" stroke="#000" stroke-width="7.5" stroke-linejoin="round" stroke-linecap="round"/>
<path d="M1335.8 1266.9 L1311.1 1287.0 L1312.6 1297.9 L1328.1 1313.3 L1346.7 1328.8 L1362.1 1344.3 L1376.1 1356.7 " fill="none" stroke="#000" stroke-width="4.5" stroke-linejoin="round" stroke-linecap="round"/>
<path d="M1374.5 1311.8 L1363.7 1325.7 L1362.1 1338.1 " fill="none" stroke="#000" stroke-width="4.5" stroke-linejoin="round" stroke-linecap="round"/>
<path d="M1762.9 1212.1 L1754.3 1222.9 L1762.9 1233.6 " fill="none" stroke="#000" stroke-width="4.5" stroke-linejoin="round" stroke-linecap="round"/>
<path d="M1476.7 1177.1 L1475.1 1161.7 L1485.9 1149.3 L1501.4 1149.3 L1512.3 1164.8 L1509.2 1180.2 " fill="none" stroke="#000" stroke-width="4.5" stroke-linejoin="round" stroke-linecap="round"/>
<path d="M1520.0 1174.0 L1532.4 1166.3 L1541.7 1177.1 L1538.6 1192.6 " fill="none" stroke="#000" stroke-width="4.5" stroke-linejoin="round" stroke-linecap="round"/>
<path d="M217.9 1425.7 L231.4 1407.9 L244.3 1404.3 L255.7 1405.0 L267.1 1408.6 L277.9 1425.7 Z" fill="#000"/>
<path d="M236.4 1425.7 L241.4 1418.3 L248.6 1416.4 L255.7 1418.3 L262.1 1425.7 Z" fill="#F0C896"/>
<path d="M1092.1 1425.7 L1101.4 1412.9 L1112.9 1408.6 L1127.1 1406.9 L1137.1 1407.9 L1148.6 1412.9 L1162.9 1417.1 L1176.4 1425.7 Z" fill="#000"/>
<path d="M1118.6 1425.7 L1125.7 1420.3 L1133.6 1425.7 Z" fill="#F0C896"/>
<path d="M1626.4 1425.7 L1634.3 1410.0 L1647.1 1400.0 L1665.7 1397.1 L1681.4 1406.4 L1686.4 1425.7 Z" fill="#000"/>
<path d="M1642.1 1425.7 L1652.9 1412.1 L1664.3 1410.0 L1671.4 1415.7 L1673.6 1425.7 Z" fill="#F0C896"/>
<circle cx="225.1" cy="1358.2" r="3.3" fill="#000"/>
<circle cx="855.8" cy="1244.3" r="3.3" fill="#000"/>
<circle cx="973.4" cy="1356.7" r="3.3" fill="#000"/>
<circle cx="1355.0" cy="1176.5" r="3.3" fill="#000"/>
<circle cx="1468.0" cy="1201.9" r="3.3" fill="#000"/>
<circle cx="1468.0" cy="1242.1" r="3.3" fill="#000"/>
<circle cx="1534.9" cy="1289.6" r="3.3" fill="#000"/>
<circle cx="1401.0" cy="1358.1" r="3.3" fill="#000"/>
<circle cx="1443.2" cy="1355.7" r="3.3" fill="#000"/>
<circle cx="1421.2" cy="1377.7" r="3.3" fill="#000"/>
<circle cx="1467.1" cy="1241.1" r="3.3" fill="#000"/>
<path d="M1490.8 1312.9 L1534.9 1312.9 L1534.9 1356.9 L1512.9 1356.9 L1512.9 1379.8 L1467.9 1379.8 L1467.9 1401.9 L1423.0 1401.9 L1423.0 1358.1 L1446.2 1358.1 L1446.2 1336.1 L1490.8 1336.1 Z" fill="#fff"/>
<path d="M1392.6 1386.1 L1405.7 1384.3 L1415.2 1383.1 L1421.2 1377.1 L1431.9 1377.1 L1439.0 1371.2 L1446.2 1367.6 L1456.9 1362.9 L1462.9 1355.7 L1471.2 1351.0 L1480.7 1346.2 L1484.3 1341.4 L1493.8 1337.9 L1501.0 1326.0 L1508.1 1321.2 L1512.9 1311.7 L1516.4 1301.0 L1523.6 1295.6 L1533.1 1295.0 L1535.5 1298.6 L1531.9 1309.3 L1527.1 1320.0 L1524.8 1329.5 L1526.0 1333.1 L1518.8 1337.9 L1516.4 1343.8 L1510.5 1349.8 L1501.0 1353.3 L1496.2 1360.5 L1489.0 1364.0 L1477.1 1366.4 L1468.8 1371.2 L1462.9 1374.2 L1458.1 1372.4 L1452.1 1373.6 L1451.0 1379.5 L1445.0 1386.7 L1434.3 1389.0 L1422.4 1391.4 L1409.3 1391.4 L1399.8 1389.6 L1392.6 1386.1 Z" fill="none" stroke="#000" stroke-width="4.6" stroke-linejoin="round"/>
<path d="M1474.8 1336.7 L1477.1 1327.1 L1489.0 1322.4 L1496.2 1327.1 L1493.8 1336.7 L1484.3 1341.4 Z" fill="#000" stroke="#000" stroke-width="2" stroke-linejoin="round"/>
<path d="M1460.5 1358.1 L1471.2 1351.0 L1486.7 1347.4 L1487.3 1353.3 L1472.4 1360.5 L1462.9 1362.9 Z" fill="#000" stroke="#000" stroke-width="2" stroke-linejoin="round"/>
<path d="M1501.0 1346.2 L1508.1 1337.9 L1517.6 1337.9 L1518.8 1343.8 L1508.1 1349.8 Z" fill="#000" stroke="#000" stroke-width="2" stroke-linejoin="round"/>
<path d="M1396.2 1397.4 L1405.7 1401.5 L1397.4 1406.9 Z" fill="#000" stroke="#000" stroke-width="2" stroke-linejoin="round"/>
<text class="cl" transform="translate(559.0 1133.5) rotate(-90.0) scale(0.96 1)" x="0" y="18.5" font-size="52.0" text-anchor="middle">.04</text>
<text class="cl" transform="translate(527.0 1400.0) rotate(8.0) scale(0.96 1)" x="0" y="18.5" font-size="52.0" text-anchor="middle">.03</text>
<text class="cl" transform="translate(1028.5 1356.0) rotate(-80.0) scale(0.96 1)" x="0" y="18.5" font-size="52.0" text-anchor="middle">.03</text>
<text class="cl" transform="translate(1162.0 1113.7) rotate(-22.0) scale(0.96 1)" x="0" y="18.5" font-size="52.0" text-anchor="middle">.02</text>
<text class="cl" transform="translate(1505.7 1191.8) rotate(14.0) scale(0.96 1)" x="0" y="18.5" font-size="52.0" text-anchor="middle">.03</text>
<text class="cl" transform="translate(1570.0 1107.5) rotate(-10.0) scale(0.96 1)" x="0" y="18.5" font-size="52.0" text-anchor="middle">.02</text>
</g>
<rect x="180.60" y="1086.40" width="1580.80" height="338.50" fill="none" stroke="#000" stroke-width="7.2"/>
<line x1="168.50" y1="1424.90" x2="180.60" y2="1424.90" stroke="#000" stroke-width="5.4" stroke-linecap="round"/>
<line x1="171.00" y1="1402.33" x2="180.60" y2="1402.33" stroke="#000" stroke-width="4" />
<line x1="171.00" y1="1379.77" x2="180.60" y2="1379.77" stroke="#000" stroke-width="4" />
<line x1="171.00" y1="1357.20" x2="180.60" y2="1357.20" stroke="#000" stroke-width="4" />
<line x1="171.00" y1="1334.63" x2="180.60" y2="1334.63" stroke="#000" stroke-width="4" />
<line x1="168.50" y1="1312.07" x2="180.60" y2="1312.07" stroke="#000" stroke-width="5.4" stroke-linecap="round"/>
<line x1="171.00" y1="1289.50" x2="180.60" y2="1289.50" stroke="#000" stroke-width="4" />
<line x1="171.00" y1="1266.93" x2="180.60" y2="1266.93" stroke="#000" stroke-width="4" />
<line x1="171.00" y1="1244.37" x2="180.60" y2="1244.37" stroke="#000" stroke-width="4" />
<line x1="171.00" y1="1221.80" x2="180.60" y2="1221.80" stroke="#000" stroke-width="4" />
<line x1="168.50" y1="1199.23" x2="180.60" y2="1199.23" stroke="#000" stroke-width="5.4" stroke-linecap="round"/>
<line x1="171.00" y1="1176.67" x2="180.60" y2="1176.67" stroke="#000" stroke-width="4" />
<line x1="171.00" y1="1154.10" x2="180.60" y2="1154.10" stroke="#000" stroke-width="4" />
<line x1="171.00" y1="1131.53" x2="180.60" y2="1131.53" stroke="#000" stroke-width="4" />
<line x1="171.00" y1="1108.97" x2="180.60" y2="1108.97" stroke="#000" stroke-width="4" />
<line x1="168.50" y1="1086.40" x2="180.60" y2="1086.40" stroke="#000" stroke-width="5.4" stroke-linecap="round"/>
<line x1="180.60" y1="1424.90" x2="180.60" y2="1434.50" stroke="#000" stroke-width="4"/>
<line x1="406.43" y1="1424.90" x2="406.43" y2="1437.00" stroke="#000" stroke-width="5.4" stroke-linecap="round"/>
<line x1="632.26" y1="1424.90" x2="632.26" y2="1434.50" stroke="#000" stroke-width="4"/>
<line x1="858.09" y1="1424.90" x2="858.09" y2="1434.50" stroke="#000" stroke-width="4"/>
<line x1="1083.91" y1="1424.90" x2="1083.91" y2="1437.00" stroke="#000" stroke-width="5.4" stroke-linecap="round"/>
<line x1="1309.74" y1="1424.90" x2="1309.74" y2="1434.50" stroke="#000" stroke-width="4"/>
<line x1="1535.57" y1="1424.90" x2="1535.57" y2="1434.50" stroke="#000" stroke-width="4"/>
<line x1="1761.40" y1="1424.90" x2="1761.40" y2="1437.00" stroke="#000" stroke-width="5.4" stroke-linecap="round"/>
<rect x="1836.20" y="1097.00" width="63.00" height="35.30" fill="#004C00" stroke="#000" stroke-width="3"/>
<rect x="1836.20" y="1132.30" width="63.00" height="35.30" fill="#006400" stroke="#000" stroke-width="3"/>
<rect x="1836.20" y="1167.60" width="63.00" height="35.30" fill="#008C00" stroke="#000" stroke-width="3"/>
<rect x="1836.20" y="1202.90" width="63.00" height="35.30" fill="#50C028" stroke="#000" stroke-width="3"/>
<rect x="1836.20" y="1238.20" width="63.00" height="35.30" fill="#A8DC84" stroke="#000" stroke-width="3"/>
<rect x="1836.20" y="1273.50" width="63.00" height="35.30" fill="#F0C896" stroke="#000" stroke-width="3"/>
<rect x="1836.20" y="1308.80" width="63.00" height="35.30" fill="#E08C3C" stroke="#000" stroke-width="3"/>
<rect x="1836.20" y="1344.10" width="63.00" height="35.30" fill="#B43208" stroke="#000" stroke-width="3"/>
<rect x="1836.20" y="1379.40" width="63.00" height="35.30" fill="#8C0000" stroke="#000" stroke-width="3"/>
</g>
<g id="panel-c">
<polyline points="220.7,2229.8 268.3,2025.7 315.9,2267.7 363.4,1972.9 411.0,2135.2 458.5,1952.7 506.1,2073.0 553.7,2279.8 601.2,2037.8 648.8,2228.5 696.3,2043.2 743.9,2209.5 791.5,1917.5 839.0,2248.7 886.6,1885.1 934.1,2390.7 981.7,2005.4 1029.3,2067.6 1076.8,2109.5 1124.4,2296.1 1171.9,2100.0 1219.5,2085.2 1267.1,2040.5 1314.6,2265.0 1362.2,1993.2 1409.7,2035.1 1457.3,2152.8 1504.9,2109.5 1552.4,2085.2 1600.0,2467.8 1647.5,2037.8 1695.1,1995.9 1742.7,2162.2" fill="none" stroke="#0000FF" stroke-width="12.4" stroke-linejoin="round" stroke-linecap="round"/>
<polyline points="220.7,2239.3 268.3,2050.0 315.9,2171.7 363.4,2063.5 411.0,2178.4 458.5,2014.8 506.1,2140.6 553.7,2063.5 601.2,2054.1 648.8,2229.8 696.3,2171.7 743.9,1983.8 791.5,2073.0 839.0,2306.9 886.6,1745.8 934.1,2509.7 981.7,1981.0 1029.3,2023.0 1076.8,2212.2 1124.4,2156.8 1171.9,2137.9 1219.5,2169.0 1267.1,1974.3 1314.6,2301.5 1362.2,2012.1 1409.7,2169.0 1457.3,2177.1 1504.9,2097.3 1552.4,1904.0 1600.0,2240.6 1647.5,2169.0 1695.1,2097.3 1723.6,2087.9" fill="none" stroke="#FF0000" stroke-width="12" stroke-linejoin="round" stroke-linecap="round" stroke-dasharray="34 26"/>
<line x1="316" y1="2408" x2="506.3" y2="2408" stroke="#0000FF" stroke-width="10" stroke-linecap="round"/>
<line x1="316" y1="2469" x2="506.3" y2="2469" stroke="#FF0000" stroke-width="10" stroke-linecap="round" stroke-dasharray="31 29"/>
<rect x="221.30" y="1712.60" width="1520.70" height="811.00" fill="none" stroke="#000" stroke-width="7"/>
<line x1="211.20" y1="2523.20" x2="221.30" y2="2523.20" stroke="#000" stroke-width="6.4" stroke-linecap="round"/>
<line x1="211.20" y1="2388.00" x2="221.30" y2="2388.00" stroke="#000" stroke-width="6.4" stroke-linecap="round"/>
<line x1="211.20" y1="2252.80" x2="221.30" y2="2252.80" stroke="#000" stroke-width="6.4" stroke-linecap="round"/>
<line x1="211.20" y1="2117.60" x2="221.30" y2="2117.60" stroke="#000" stroke-width="6.4" stroke-linecap="round"/>
<line x1="211.20" y1="1982.40" x2="221.30" y2="1982.40" stroke="#000" stroke-width="6.4" stroke-linecap="round"/>
<line x1="211.20" y1="1847.20" x2="221.30" y2="1847.20" stroke="#000" stroke-width="6.4" stroke-linecap="round"/>
<line x1="211.20" y1="1712.00" x2="221.30" y2="1712.00" stroke="#000" stroke-width="6.4" stroke-linecap="round"/>
<line x1="220.74" y1="2523.60" x2="220.74" y2="2532.00" stroke="#000" stroke-width="3.5"/>
<line x1="268.30" y1="2523.60" x2="268.30" y2="2533.00" stroke="#000" stroke-width="6" stroke-linecap="round"/>
<line x1="315.86" y1="2523.60" x2="315.86" y2="2532.00" stroke="#000" stroke-width="3.5"/>
<line x1="363.42" y1="2523.60" x2="363.42" y2="2532.00" stroke="#000" stroke-width="3.5"/>
<line x1="410.98" y1="2523.60" x2="410.98" y2="2532.00" stroke="#000" stroke-width="3.5"/>
<line x1="458.54" y1="2523.60" x2="458.54" y2="2532.00" stroke="#000" stroke-width="3.5"/>
<line x1="506.10" y1="2523.60" x2="506.10" y2="2533.00" stroke="#000" stroke-width="6" stroke-linecap="round"/>
<line x1="553.66" y1="2523.60" x2="553.66" y2="2532.00" stroke="#000" stroke-width="3.5"/>
<line x1="601.22" y1="2523.60" x2="601.22" y2="2532.00" stroke="#000" stroke-width="3.5"/>
<line x1="648.78" y1="2523.60" x2="648.78" y2="2532.00" stroke="#000" stroke-width="3.5"/>
<line x1="696.34" y1="2523.60" x2="696.34" y2="2532.00" stroke="#000" stroke-width="3.5"/>
<line x1="743.90" y1="2523.60" x2="743.90" y2="2533.00" stroke="#000" stroke-width="6" stroke-linecap="round"/>
<line x1="791.46" y1="2523.60" x2="791.46" y2="2532.00" stroke="#000" stroke-width="3.5"/>
<line x1="839.02" y1="2523.60" x2="839.02" y2="2532.00" stroke="#000" stroke-width="3.5"/>
<line x1="886.58" y1="2523.60" x2="886.58" y2="2532.00" stroke="#000" stroke-width="3.5"/>
<line x1="934.14" y1="2523.60" x2="934.14" y2="2532.00" stroke="#000" stroke-width="3.5"/>
<line x1="981.70" y1="2523.60" x2="981.70" y2="2533.00" stroke="#000" stroke-width="6" stroke-linecap="round"/>
<line x1="1029.26" y1="2523.60" x2="1029.26" y2="2532.00" stroke="#000" stroke-width="3.5"/>
<line x1="1076.82" y1="2523.60" x2="1076.82" y2="2532.00" stroke="#000" stroke-width="3.5"/>
<line x1="1124.38" y1="2523.60" x2="1124.38" y2="2532.00" stroke="#000" stroke-width="3.5"/>
<line x1="1171.94" y1="2523.60" x2="1171.94" y2="2532.00" stroke="#000" stroke-width="3.5"/>
<line x1="1219.50" y1="2523.60" x2="1219.50" y2="2533.00" stroke="#000" stroke-width="6" stroke-linecap="round"/>
<line x1="1267.06" y1="2523.60" x2="1267.06" y2="2532.00" stroke="#000" stroke-width="3.5"/>
<line x1="1314.62" y1="2523.60" x2="1314.62" y2="2532.00" stroke="#000" stroke-width="3.5"/>
<line x1="1362.18" y1="2523.60" x2="1362.18" y2="2532.00" stroke="#000" stroke-width="3.5"/>
<line x1="1409.74" y1="2523.60" x2="1409.74" y2="2532.00" stroke="#000" stroke-width="3.5"/>
<line x1="1457.30" y1="2523.60" x2="1457.30" y2="2533.00" stroke="#000" stroke-width="6" stroke-linecap="round"/>
<line x1="1504.86" y1="2523.60" x2="1504.86" y2="2532.00" stroke="#000" stroke-width="3.5"/>
<line x1="1552.42" y1="2523.60" x2="1552.42" y2="2532.00" stroke="#000" stroke-width="3.5"/>
<line x1="1599.98" y1="2523.60" x2="1599.98" y2="2532.00" stroke="#000" stroke-width="3.5"/>
<line x1="1647.54" y1="2523.60" x2="1647.54" y2="2532.00" stroke="#000" stroke-width="3.5"/>
<line x1="1695.10" y1="2523.60" x2="1695.10" y2="2533.00" stroke="#000" stroke-width="6" stroke-linecap="round"/>
<line x1="1742.66" y1="2523.60" x2="1742.66" y2="2532.00" stroke="#000" stroke-width="3.5"/>
</g>
<g id="labels">
<text class="t" x="0.00" y="0.00" font-size="74.00" text-anchor="start" transform="translate(157.02 98.00) scale(0.9393 1)" stroke="#000" stroke-width="1.48" stroke-linejoin="round">(a) First SVD</text>
<text class="t" x="0.00" y="0.00" font-size="74.00" text-anchor="start" transform="translate(1281.53 98.00) scale(0.9403 1)" stroke="#000" stroke-width="1.48" stroke-linejoin="round">DJF SIC_DY</text>
<text class="t" x="0.00" y="0.00" font-size="75.29" text-anchor="start" transform="translate(176.91 1062.30) scale(0.9584 1)" stroke="#000" stroke-width="1.51" stroke-linejoin="round">(b) First SVD</text>
<text class="t" x="0.00" y="0.00" font-size="75.14" text-anchor="start" transform="translate(1277.76 1063.00) scale(0.9590 1)" stroke="#000" stroke-width="1.50" stroke-linejoin="round">AMJ NDVI_DY</text>
<text class="t" x="0.00" y="0.00" font-size="71.71" text-anchor="start" transform="translate(217.51 1665.70) scale(0.9733 1)" stroke="#000" stroke-width="1.43" stroke-linejoin="round">(c) pcVar.= 63.3%</text>
<text class="t" x="0.00" y="0.00" font-size="73.86" text-anchor="start" transform="translate(1430.79 1679.80) scale(0.9518 1)" stroke="#000" stroke-width="1.48" stroke-linejoin="round">Cor.=0.67</text>
<text class="t" x="0.00" y="0.00" font-size="59.71" text-anchor="start" transform="translate(1897.82 246.80) scale(0.9600 1)" stroke="#000" stroke-width="1.19" stroke-linejoin="round">0.05</text>
<text class="t" x="0.00" y="0.00" font-size="59.71" text-anchor="start" transform="translate(1897.25 327.80) scale(0.9600 1)" stroke="#000" stroke-width="1.19" stroke-linejoin="round">0.04</text>
<text class="t" x="0.00" y="0.00" font-size="59.71" text-anchor="start" transform="translate(1898.11 408.80) scale(0.9600 1)" stroke="#000" stroke-width="1.19" stroke-linejoin="round">0.03</text>
<text class="t" x="0.00" y="0.00" font-size="59.71" text-anchor="start" transform="translate(1898.11 489.80) scale(0.9600 1)" stroke="#000" stroke-width="1.19" stroke-linejoin="round">0.02</text>
<text class="t" x="0.00" y="0.00" font-size="59.71" text-anchor="start" transform="translate(1897.82 570.80) scale(0.9600 1)" stroke="#000" stroke-width="1.19" stroke-linejoin="round">0.01</text>
<text class="t" x="0.00" y="0.00" font-size="59.71" text-anchor="start" transform="translate(1938.24 651.80) scale(0.9600 1)" stroke="#000" stroke-width="1.19" stroke-linejoin="round">0</text>
<text class="t" x="0.00" y="0.00" font-size="59.71" text-anchor="start" transform="translate(1885.36 732.80) scale(0.9600 1)" stroke="#000" stroke-width="1.19" stroke-linejoin="round">-0.01</text>
<text class="t" x="0.00" y="0.00" font-size="59.71" text-anchor="start" transform="translate(1885.65 813.80) scale(0.9600 1)" stroke="#000" stroke-width="1.19" stroke-linejoin="round">-0.02</text>
<text class="t" x="0.00" y="0.00" font-size="59.57" text-anchor="start" transform="translate(1925.38 1152.85) scale(0.9600 1)" stroke="#000" stroke-width="1.19" stroke-linejoin="round">0.04</text>
<text class="t" x="0.00" y="0.00" font-size="59.57" text-anchor="start" transform="translate(1926.24 1224.60) scale(0.9600 1)" stroke="#000" stroke-width="1.19" stroke-linejoin="round">0.02</text>
<text class="t" x="0.00" y="0.00" font-size="59.57" text-anchor="start" transform="translate(1966.27 1295.85) scale(0.9600 1)" stroke="#000" stroke-width="1.19" stroke-linejoin="round">0</text>
<text class="t" x="0.00" y="0.00" font-size="59.57" text-anchor="start" transform="translate(1915.81 1366.25) scale(0.9600 1)" stroke="#000" stroke-width="1.19" stroke-linejoin="round">-0.02</text>
<text class="t" x="0.00" y="0.00" font-size="62.14" text-anchor="start" transform="translate(23.71 1110.80) scale(0.9075 1)" stroke="#000" stroke-width="1.24" stroke-linejoin="round">65<tspan font-size="68.36" dy="-2.18">&#176;</tspan><tspan dy="2.18">N</tspan></text>
<text class="t" x="0.00" y="0.00" font-size="63.57" text-anchor="start" transform="translate(23.71 1224.30) scale(0.8871 1)" stroke="#000" stroke-width="1.27" stroke-linejoin="round">60<tspan font-size="69.93" dy="-2.23">&#176;</tspan><tspan dy="2.23">N</tspan></text>
<text class="t" x="0.00" y="0.00" font-size="61.71" text-anchor="start" transform="translate(24.28 1337.40) scale(0.9096 1)" stroke="#000" stroke-width="1.23" stroke-linejoin="round">55<tspan font-size="67.89" dy="-2.16">&#176;</tspan><tspan dy="2.16">N</tspan></text>
<text class="t" x="0.00" y="0.00" font-size="62.14" text-anchor="start" transform="translate(24.28 1449.80) scale(0.9033 1)" stroke="#000" stroke-width="1.24" stroke-linejoin="round">50<tspan font-size="68.36" dy="-2.18">&#176;</tspan><tspan dy="2.18">N</tspan></text>
<text class="t" x="0.00" y="0.00" font-size="60.71" text-anchor="start" transform="translate(344.11 1505.80) scale(0.9280 1)" stroke="#000" stroke-width="1.21" stroke-linejoin="round">60<tspan font-size="66.79" dy="-2.13">&#176;</tspan><tspan dy="2.13">E</tspan></text>
<text class="t" x="0.00" y="0.00" font-size="60.71" text-anchor="start" transform="translate(1020.82 1505.80) scale(0.9246 1)" stroke="#000" stroke-width="1.21" stroke-linejoin="round">90<tspan font-size="66.79" dy="-2.13">&#176;</tspan><tspan dy="2.13">E</tspan></text>
<text class="t" x="0.00" y="0.00" font-size="60.71" text-anchor="start" transform="translate(1682.57 1505.80) scale(0.9327 1)" stroke="#000" stroke-width="1.21" stroke-linejoin="round">120<tspan font-size="66.79" dy="-2.13">&#176;</tspan><tspan dy="2.13">E</tspan></text>
<text class="t" x="0.00" y="0.00" font-size="58.86" text-anchor="start" transform="translate(160.95 1733.60) scale(0.9600 1)" stroke="#000" stroke-width="1.18" stroke-linejoin="round">3</text>
<text class="t" x="0.00" y="0.00" font-size="58.86" text-anchor="start" transform="translate(160.95 1868.30) scale(0.9600 1)" stroke="#000" stroke-width="1.18" stroke-linejoin="round">2</text>
<text class="t" x="0.00" y="0.00" font-size="58.86" text-anchor="start" transform="translate(160.39 2003.60) scale(0.9600 1)" stroke="#000" stroke-width="1.18" stroke-linejoin="round">1</text>
<text class="t" x="0.00" y="0.00" font-size="58.86" text-anchor="start" transform="translate(161.52 2138.20) scale(0.9600 1)" stroke="#000" stroke-width="1.18" stroke-linejoin="round">0</text>
<text class="t" x="0.00" y="0.00" font-size="58.86" text-anchor="start" transform="translate(141.74 2274.10) scale(0.9600 1)" stroke="#000" stroke-width="1.18" stroke-linejoin="round">-1</text>
<text class="t" x="0.00" y="0.00" font-size="58.86" text-anchor="start" transform="translate(142.31 2409.00) scale(0.9600 1)" stroke="#000" stroke-width="1.18" stroke-linejoin="round">-2</text>
<text class="t" x="0.00" y="0.00" font-size="58.86" text-anchor="start" transform="translate(142.31 2544.60) scale(0.9600 1)" stroke="#000" stroke-width="1.18" stroke-linejoin="round">-3</text>
<text class="t" x="0.00" y="0.00" font-size="59.43" text-anchor="start" transform="translate(206.35 2595.20) scale(0.9263 1)" stroke="#000" stroke-width="1.19" stroke-linejoin="round">1984</text>
<text class="t" x="0.00" y="0.00" font-size="59.43" text-anchor="start" transform="translate(444.11 2595.20) scale(0.9392 1)" stroke="#000" stroke-width="1.19" stroke-linejoin="round">1989</text>
<text class="t" x="0.00" y="0.00" font-size="59.43" text-anchor="start" transform="translate(681.95 2595.20) scale(0.9263 1)" stroke="#000" stroke-width="1.19" stroke-linejoin="round">1994</text>
<text class="t" x="0.00" y="0.00" font-size="59.43" text-anchor="start" transform="translate(919.71 2595.20) scale(0.9392 1)" stroke="#000" stroke-width="1.19" stroke-linejoin="round">1999</text>
<text class="t" x="0.00" y="0.00" font-size="59.43" text-anchor="start" transform="translate(1159.21 2595.20) scale(0.9137 1)" stroke="#000" stroke-width="1.19" stroke-linejoin="round">2004</text>
<text class="t" x="0.00" y="0.00" font-size="59.43" text-anchor="start" transform="translate(1397.00 2595.20) scale(0.9263 1)" stroke="#000" stroke-width="1.19" stroke-linejoin="round">2009</text>
<text class="t" x="0.00" y="0.00" font-size="59.43" text-anchor="start" transform="translate(1634.81 2595.20) scale(0.9137 1)" stroke="#000" stroke-width="1.19" stroke-linejoin="round">2014</text>
<text class="t" x="0.00" y="0.00" font-size="70.00" text-anchor="start" transform="translate(912.65 2689.30) scale(0.9313 1)" stroke="#000" stroke-width="1.40" stroke-linejoin="round">Year</text>
<text class="t" x="0.00" y="0.00" font-size="61.00" text-anchor="start" transform="translate(552.60 2429.40) scale(0.9031 1)" stroke="#000" stroke-width="1.22" stroke-linejoin="round">SIC</text>
<text class="t" x="0.00" y="0.00" font-size="60.00" text-anchor="start" transform="translate(550.36 2489.60) scale(0.9288 1)" stroke="#000" stroke-width="1.20" stroke-linejoin="round">NDVI</text>
<text class="t" x="0.00" y="0.00" font-size="67.14" text-anchor="start" transform="translate(98.00 2271.90) rotate(-90.00) scale(0.9500 1)" stroke="#000" stroke-width="1.34" stroke-linejoin="round">Time Coef</text>
<text class="t" transform="translate(437.40 205.09) rotate(49.38) scale(0.890 1)" x="-67.20" y="21.00" font-size="60.00" stroke="#000" stroke-width="1.20" stroke-linejoin="round">83<tspan font-size="66.00" dy="-2.10">&#176;</tspan><tspan dy="2.10">N</tspan></text>
<text class="t" transform="translate(1405.40 205.09) rotate(-49.38) scale(0.890 1)" x="-67.20" y="21.00" font-size="60.00" stroke="#000" stroke-width="1.20" stroke-linejoin="round">83<tspan font-size="66.00" dy="-2.10">&#176;</tspan><tspan dy="2.10">N</tspan></text>
<text class="t" transform="translate(147.37 453.85) rotate(49.38) scale(0.890 1)" x="-67.50" y="21.00" font-size="60.00" stroke="#000" stroke-width="1.20" stroke-linejoin="round">78<tspan font-size="66.00" dy="-2.10">&#176;</tspan><tspan dy="2.10">N</tspan></text>
<text class="t" transform="translate(1695.43 453.85) rotate(-49.38) scale(0.890 1)" x="-67.50" y="21.00" font-size="60.00" stroke="#000" stroke-width="1.20" stroke-linejoin="round">78<tspan font-size="66.00" dy="-2.10">&#176;</tspan><tspan dy="2.10">N</tspan></text>
<text class="t" transform="translate(274.60 664.30) rotate(40.15) scale(0.890 1)" x="-66.00" y="21.00" font-size="60.00" stroke="#000" stroke-width="1.20" stroke-linejoin="round">35<tspan font-size="66.00" dy="-2.10">&#176;</tspan><tspan dy="2.10">E</tspan></text>
<text class="t" transform="translate(558.20 831.10) rotate(21.15) scale(0.890 1)" x="-66.30" y="21.00" font-size="60.00" stroke="#000" stroke-width="1.20" stroke-linejoin="round">55<tspan font-size="66.00" dy="-2.10">&#176;</tspan><tspan dy="2.10">E</tspan></text>
<text class="t" transform="translate(879.80 896.90) rotate(2.30) scale(0.890 1)" x="-66.60" y="21.00" font-size="60.00" stroke="#000" stroke-width="1.20" stroke-linejoin="round">75<tspan font-size="66.00" dy="-2.10">&#176;</tspan><tspan dy="2.10">E</tspan></text>
<text class="t" transform="translate(1208.00 855.00) rotate(-16.50) scale(0.890 1)" x="-66.60" y="21.00" font-size="60.00" stroke="#000" stroke-width="1.20" stroke-linejoin="round">95<tspan font-size="66.00" dy="-2.10">&#176;</tspan><tspan dy="2.10">E</tspan></text>
<text class="t" transform="translate(1506.40 710.20) rotate(-35.45) scale(0.890 1)" x="-82.20" y="21.00" font-size="60.00" stroke="#000" stroke-width="1.20" stroke-linejoin="round">115<tspan font-size="66.00" dy="-2.10">&#176;</tspan><tspan dy="2.10">E</tspan></text>
</g>
</svg>
</body></html>
